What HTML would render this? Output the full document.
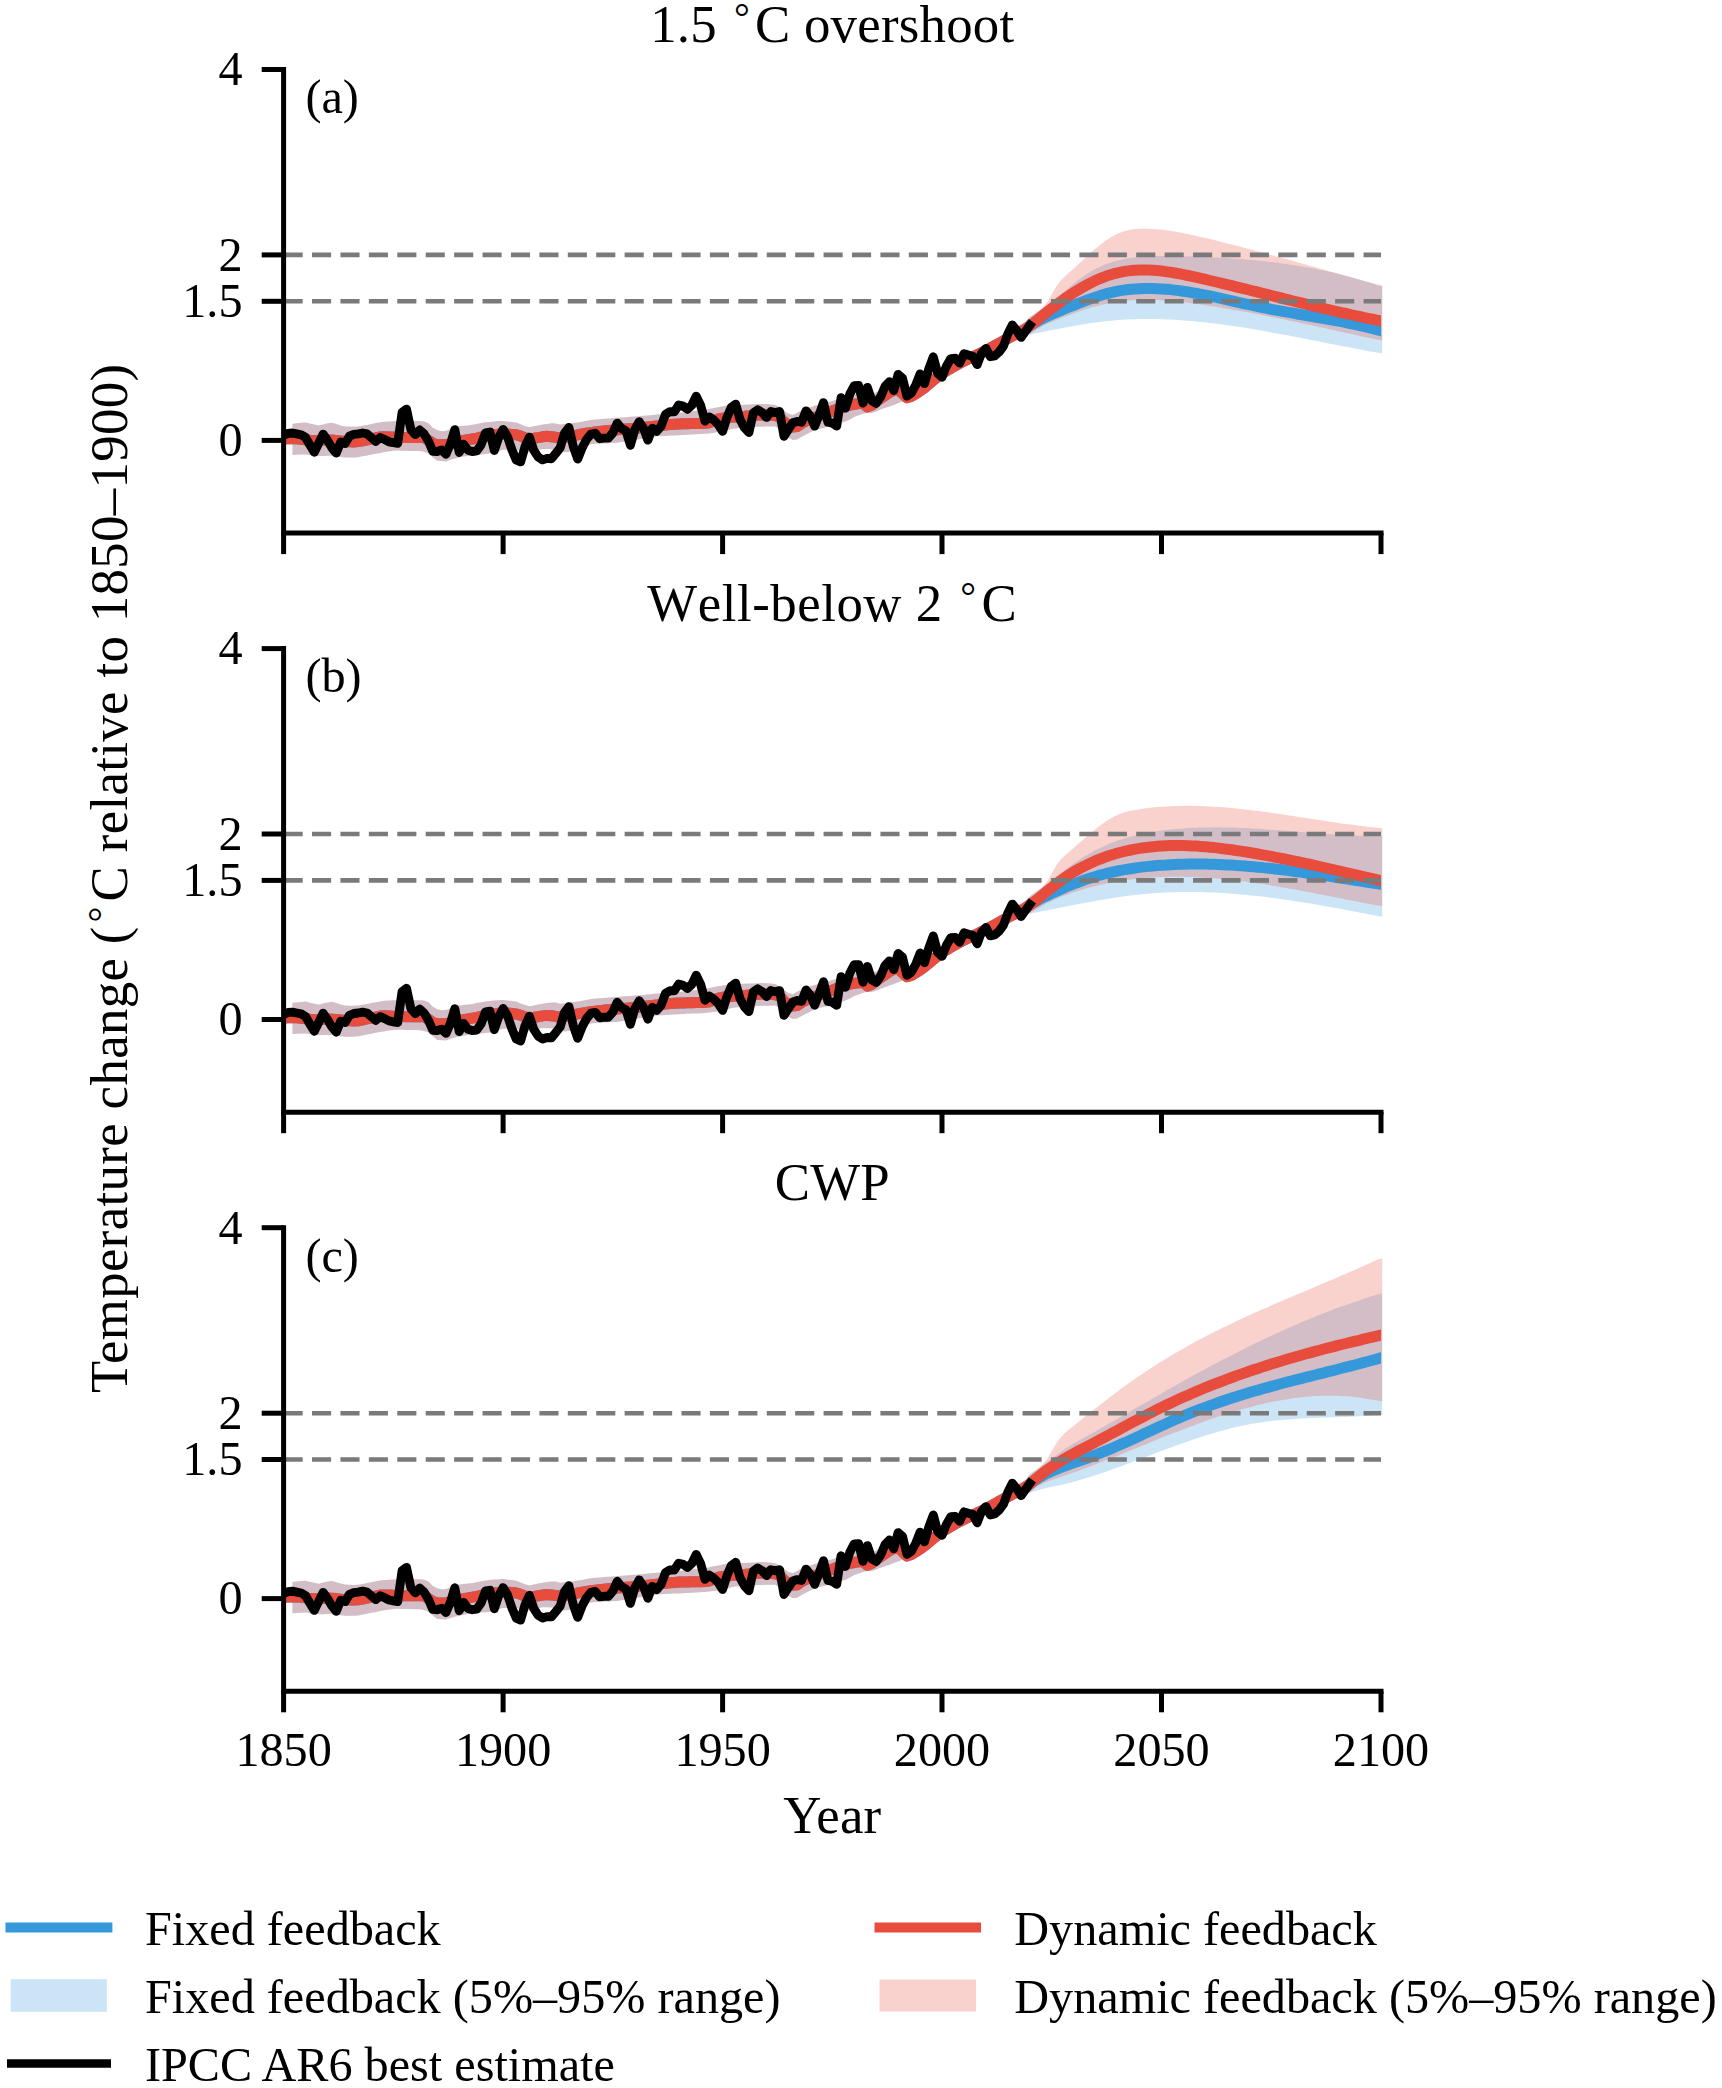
<!DOCTYPE html>
<html><head><meta charset="utf-8"><title>Temperature change</title>
<style>
html,body{margin:0;padding:0;background:#fff}
svg{display:block}
text{font-family:"Liberation Serif",serif;fill:#000;}
.t{font-size:48.2px}
.l{font-size:52.8px;letter-spacing:0.25px}
.nk{font-kerning:none;letter-spacing:0.55px}
.yl{letter-spacing:0.36px}
.rg{font-size:39.6px}
</style></head><body>
<svg width="1722" height="2088" viewBox="0 0 1722 2088">
<rect width="1722" height="2088" fill="#fff"/>
<clipPath id="cp0"><rect x="283.6" y="64.5" width="1097.4" height="468.6"/></clipPath>
<g>
<path d="M292.4 423.7 L296.8 423.3 L301.2 422.8 L305.5 422.5 L309.9 423.6 L314.3 424.6 L318.7 425.5 L323.1 424.4 L327.5 423.3 L331.9 422.7 L336.3 424.0 L340.7 425.4 L345.1 426.4 L349.4 426.6 L353.8 426.7 L358.2 426.5 L362.6 425.7 L367.0 424.9 L371.4 424.0 L375.8 423.1 L380.2 422.3 L384.6 421.7 L389.0 421.5 L393.3 421.2 L397.7 421.1 L402.1 421.1 L406.5 421.1 L410.9 421.1 L415.3 421.1 L419.7 421.1 L424.1 421.5 L428.5 423.2 L432.8 427.7 L437.2 430.1 L441.6 431.2 L446.0 430.8 L450.4 429.2 L454.8 427.7 L459.2 426.3 L463.6 425.8 L468.0 425.4 L472.4 424.8 L476.7 424.0 L481.1 423.1 L485.5 422.3 L489.9 421.9 L494.3 421.4 L498.7 421.1 L503.1 420.9 L507.5 421.4 L511.9 421.9 L516.2 422.5 L520.6 424.3 L525.0 426.0 L529.4 427.2 L533.8 426.3 L538.2 425.4 L542.6 424.6 L547.0 423.9 L551.4 423.3 L555.8 423.4 L560.1 424.6 L564.5 424.1 L568.9 423.5 L573.3 423.0 L577.7 422.4 L582.1 421.7 L586.5 420.8 L590.9 420.0 L595.3 419.5 L599.7 419.2 L604.0 418.8 L608.4 418.5 L612.8 418.2 L617.2 417.8 L621.6 417.5 L626.0 417.2 L630.4 416.8 L634.8 416.5 L639.2 416.2 L643.5 415.8 L647.9 415.4 L652.3 414.9 L656.7 414.5 L661.1 414.2 L665.5 413.8 L669.9 413.5 L674.3 413.2 L678.7 412.8 L683.1 412.4 L687.4 411.9 L691.8 411.3 L696.2 410.8 L700.6 410.2 L705.0 409.7 L709.4 409.0 L713.8 408.0 L718.2 407.2 L722.6 406.3 L726.9 405.6 L731.3 405.4 L735.7 405.1 L740.1 404.9 L744.5 404.7 L748.9 404.5 L753.3 404.3 L757.7 404.1 L762.1 403.9 L766.5 404.1 L770.8 404.5 L775.2 405.0 L779.6 407.3 L784.0 410.8 L788.4 413.8 L792.8 415.1 L797.2 412.7 L801.6 410.3 L806.0 408.6 L810.4 407.2 L814.7 405.8 L819.1 404.6 L823.5 403.5 L827.9 402.4 L832.3 401.0 L836.7 399.6 L841.1 398.2 L845.5 396.8 L849.9 395.4 L854.2 394.0 L858.6 393.6 L863.0 393.1 L867.4 396.8 L871.8 394.5 L876.2 392.2 L880.6 389.8 L885.0 387.4 L889.4 385.0 L893.8 382.5 L898.1 380.1 L902.5 382.0 L906.9 385.2 L911.3 389.1 L915.7 386.0 L920.1 382.9 L924.5 379.9 L928.9 376.8 L933.3 373.7 L937.7 370.7 L942.0 367.6 L946.4 365.4 L950.8 363.2 L955.2 360.9 L959.6 358.7 L964.0 356.5 L968.4 354.2 L972.8 351.8 L977.2 349.5 L981.5 347.2 L985.9 344.9 L990.3 342.2 L994.7 339.6 L999.1 336.9 L1003.5 334.3 L1007.9 331.6 L1012.3 329.2 L1016.7 326.7 L1021.1 324.2 L1025.4 321.7 L1029.8 317.0 L1034.2 314.2 L1038.6 311.3 L1043.0 308.2 L1047.4 305.0 L1051.8 301.7 L1056.2 298.2 L1060.6 294.6 L1064.9 290.9 L1069.3 287.2 L1073.7 283.6 L1078.1 280.1 L1082.5 276.9 L1086.9 273.9 L1091.3 271.2 L1095.7 268.8 L1100.1 266.7 L1104.5 264.8 L1108.8 263.2 L1113.2 261.7 L1117.6 260.5 L1122.0 259.5 L1126.4 258.6 L1130.8 257.9 L1135.2 257.3 L1139.6 256.9 L1144.0 256.5 L1148.4 256.3 L1152.7 256.2 L1157.1 256.1 L1161.5 256.1 L1165.9 256.1 L1170.3 256.1 L1174.7 256.2 L1179.1 256.3 L1183.5 256.3 L1187.9 256.4 L1192.2 256.6 L1196.6 256.7 L1201.0 256.8 L1205.4 257.0 L1209.8 257.2 L1214.2 257.4 L1218.6 257.6 L1223.0 257.8 L1227.4 258.1 L1231.8 258.4 L1236.1 258.7 L1240.5 259.0 L1244.9 259.3 L1249.3 259.7 L1253.7 260.1 L1258.1 260.6 L1262.5 261.0 L1266.9 261.5 L1271.3 262.0 L1275.6 262.5 L1280.0 263.1 L1284.4 263.7 L1288.8 264.4 L1293.2 265.0 L1297.6 265.7 L1302.0 266.5 L1306.4 267.2 L1310.8 268.0 L1315.2 268.9 L1319.5 269.8 L1323.9 270.7 L1328.3 271.6 L1332.7 272.6 L1337.1 273.7 L1341.5 274.8 L1345.9 275.9 L1350.3 277.0 L1354.7 278.2 L1359.1 279.5 L1363.4 280.8 L1367.8 282.1 L1372.2 283.5 L1376.6 285.0 L1382.2 286.5 L1382.2 353.2 L1376.6 352.4 L1372.2 351.7 L1367.8 350.9 L1363.4 350.1 L1359.1 349.3 L1354.7 348.4 L1350.3 347.6 L1345.9 346.8 L1341.5 345.9 L1337.1 345.1 L1332.7 344.2 L1328.3 343.4 L1323.9 342.5 L1319.5 341.6 L1315.2 340.8 L1310.8 339.9 L1306.4 339.0 L1302.0 338.2 L1297.6 337.3 L1293.2 336.5 L1288.8 335.6 L1284.4 334.8 L1280.0 334.0 L1275.6 333.2 L1271.3 332.4 L1266.9 331.6 L1262.5 330.8 L1258.1 330.0 L1253.7 329.3 L1249.3 328.6 L1244.9 327.8 L1240.5 327.1 L1236.1 326.5 L1231.8 325.8 L1227.4 325.2 L1223.0 324.6 L1218.6 324.0 L1214.2 323.4 L1209.8 322.9 L1205.4 322.4 L1201.0 321.9 L1196.6 321.5 L1192.2 321.1 L1187.9 320.7 L1183.5 320.4 L1179.1 320.1 L1174.7 319.8 L1170.3 319.6 L1165.9 319.4 L1161.5 319.2 L1157.1 319.1 L1152.7 319.0 L1148.4 319.0 L1144.0 319.0 L1139.6 319.1 L1135.2 319.2 L1130.8 319.3 L1126.4 319.5 L1122.0 319.8 L1117.6 320.1 L1113.2 320.4 L1108.8 320.9 L1104.5 321.3 L1100.1 321.9 L1095.7 322.5 L1091.3 323.1 L1086.9 323.7 L1082.5 324.4 L1078.1 325.2 L1073.7 325.9 L1069.3 326.7 L1064.9 327.5 L1060.6 328.4 L1056.2 329.2 L1051.8 330.1 L1047.4 331.0 L1043.0 331.9 L1038.6 332.8 L1034.2 333.7 L1029.8 334.6 L1025.4 331.0 L1021.1 333.5 L1016.7 335.9 L1012.3 338.4 L1007.9 340.9 L1003.5 343.6 L999.1 346.2 L994.7 348.9 L990.3 351.5 L985.9 354.2 L981.5 356.7 L977.2 359.2 L972.8 361.7 L968.4 364.2 L964.0 366.7 L959.6 369.3 L955.2 371.9 L950.8 374.5 L946.4 377.1 L942.0 379.7 L937.7 382.9 L933.3 386.2 L928.9 389.5 L924.5 392.8 L920.1 396.1 L915.7 399.0 L911.3 401.6 L906.9 401.0 L902.5 401.4 L898.1 403.2 L893.8 404.9 L889.4 406.5 L885.0 408.1 L880.6 409.6 L876.2 411.4 L871.8 413.0 L867.4 412.7 L863.0 413.7 L858.6 415.3 L854.2 416.9 L849.9 419.4 L845.5 421.5 L841.1 422.8 L836.7 424.2 L832.3 425.5 L827.9 426.8 L823.5 427.9 L819.1 428.9 L814.7 430.1 L810.4 432.3 L806.0 434.6 L801.6 436.8 L797.2 439.5 L792.8 440.0 L788.4 437.6 L784.0 433.3 L779.6 429.1 L775.2 426.5 L770.8 426.6 L766.5 426.6 L762.1 426.7 L757.7 426.8 L753.3 427.1 L748.9 427.4 L744.5 427.7 L740.1 428.0 L735.7 428.4 L731.3 429.0 L726.9 430.6 L722.6 431.6 L718.2 432.2 L713.8 432.8 L709.4 433.4 L705.0 433.8 L700.6 434.1 L696.2 434.3 L691.8 434.5 L687.4 434.7 L683.1 435.0 L678.7 435.2 L674.3 435.4 L669.9 435.6 L665.5 435.9 L661.1 436.1 L656.7 436.3 L652.3 437.0 L647.9 437.7 L643.5 438.5 L639.2 439.2 L634.8 439.9 L630.4 440.7 L626.0 441.4 L621.6 442.1 L617.2 442.8 L612.8 443.0 L608.4 443.2 L604.0 443.4 L599.7 443.6 L595.3 443.8 L590.9 444.3 L586.5 445.5 L582.1 446.6 L577.7 447.8 L573.3 449.9 L568.9 451.9 L564.5 452.3 L560.1 451.0 L555.8 449.7 L551.4 449.2 L547.0 449.1 L542.6 449.0 L538.2 449.9 L533.8 451.0 L529.4 452.2 L525.0 451.7 L520.6 450.7 L516.2 449.7 L511.9 449.7 L507.5 449.7 L503.1 449.7 L498.7 451.0 L494.3 452.3 L489.9 453.5 L485.5 454.0 L481.1 454.4 L476.7 454.9 L472.4 455.4 L468.0 455.9 L463.6 456.6 L459.2 457.6 L454.8 458.5 L450.4 459.7 L446.0 461.4 L441.6 461.1 L437.2 460.8 L432.8 457.2 L428.5 453.5 L424.1 451.8 L419.7 451.1 L415.3 451.0 L410.9 450.9 L406.5 450.8 L402.1 450.7 L397.7 450.6 L393.3 450.8 L389.0 451.4 L384.6 452.1 L380.2 452.9 L375.8 453.7 L371.4 454.6 L367.0 455.5 L362.6 456.3 L358.2 457.2 L353.8 457.6 L349.4 457.6 L345.1 457.6 L340.7 457.1 L336.3 456.5 L331.9 455.8 L327.5 455.8 L323.1 456.0 L318.7 456.1 L314.3 455.6 L309.9 455.0 L305.5 454.4 L301.2 454.5 L296.8 454.7 L292.4 455.0Z" fill="#3498DB" fill-opacity="0.25"/>
<path d="M292.4 423.7 L296.8 423.3 L301.2 422.8 L305.5 422.5 L309.9 423.6 L314.3 424.6 L318.7 425.5 L323.1 424.4 L327.5 423.3 L331.9 422.7 L336.3 424.0 L340.7 425.4 L345.1 426.4 L349.4 426.6 L353.8 426.7 L358.2 426.5 L362.6 425.7 L367.0 424.9 L371.4 424.0 L375.8 423.1 L380.2 422.3 L384.6 421.7 L389.0 421.5 L393.3 421.2 L397.7 421.1 L402.1 421.1 L406.5 421.1 L410.9 421.1 L415.3 421.1 L419.7 421.1 L424.1 421.5 L428.5 423.2 L432.8 427.7 L437.2 430.1 L441.6 431.2 L446.0 430.8 L450.4 429.2 L454.8 427.7 L459.2 426.3 L463.6 425.8 L468.0 425.4 L472.4 424.8 L476.7 424.0 L481.1 423.1 L485.5 422.3 L489.9 421.9 L494.3 421.4 L498.7 421.1 L503.1 420.9 L507.5 421.4 L511.9 421.9 L516.2 422.5 L520.6 424.3 L525.0 426.0 L529.4 427.2 L533.8 426.3 L538.2 425.4 L542.6 424.6 L547.0 423.9 L551.4 423.3 L555.8 423.4 L560.1 424.6 L564.5 424.1 L568.9 423.5 L573.3 423.0 L577.7 422.4 L582.1 421.7 L586.5 420.8 L590.9 420.0 L595.3 419.5 L599.7 419.2 L604.0 418.8 L608.4 418.5 L612.8 418.2 L617.2 417.8 L621.6 417.5 L626.0 417.2 L630.4 416.8 L634.8 416.5 L639.2 416.2 L643.5 415.8 L647.9 415.4 L652.3 414.9 L656.7 414.5 L661.1 414.2 L665.5 413.8 L669.9 413.5 L674.3 413.2 L678.7 412.8 L683.1 412.4 L687.4 411.9 L691.8 411.3 L696.2 410.8 L700.6 410.2 L705.0 409.7 L709.4 409.0 L713.8 408.0 L718.2 407.2 L722.6 406.3 L726.9 405.6 L731.3 405.4 L735.7 405.1 L740.1 404.9 L744.5 404.7 L748.9 404.5 L753.3 404.3 L757.7 404.1 L762.1 403.9 L766.5 404.1 L770.8 404.5 L775.2 405.0 L779.6 407.3 L784.0 410.8 L788.4 413.8 L792.8 415.1 L797.2 412.7 L801.6 410.3 L806.0 408.6 L810.4 407.2 L814.7 405.8 L819.1 404.6 L823.5 403.5 L827.9 402.4 L832.3 401.0 L836.7 399.6 L841.1 398.2 L845.5 396.8 L849.9 395.4 L854.2 394.0 L858.6 393.6 L863.0 393.1 L867.4 396.8 L871.8 394.5 L876.2 392.2 L880.6 389.8 L885.0 387.4 L889.4 385.0 L893.8 382.5 L898.1 380.1 L902.5 382.0 L906.9 385.2 L911.3 389.1 L915.7 386.0 L920.1 382.9 L924.5 379.9 L928.9 376.8 L933.3 373.7 L937.7 370.7 L942.0 367.6 L946.4 365.4 L950.8 363.2 L955.2 360.9 L959.6 358.7 L964.0 356.5 L968.4 354.2 L972.8 351.8 L977.2 349.5 L981.5 347.2 L985.9 344.9 L990.3 342.2 L994.7 339.6 L999.1 336.9 L1003.5 334.3 L1007.9 331.6 L1012.3 329.2 L1016.7 326.7 L1021.1 324.2 L1025.4 321.7 L1029.8 317.1 L1034.2 314.0 L1038.6 311.0 L1043.0 307.3 L1047.4 301.9 L1051.8 294.2 L1056.2 286.6 L1060.6 280.8 L1064.9 276.4 L1069.3 272.5 L1073.7 268.5 L1078.1 264.5 L1082.5 260.4 L1086.9 256.3 L1091.3 252.3 L1095.7 248.5 L1100.1 244.9 L1104.5 241.5 L1108.8 238.5 L1113.2 235.9 L1117.6 233.6 L1122.0 231.9 L1126.4 230.6 L1130.8 229.7 L1135.2 229.0 L1139.6 228.7 L1144.0 228.6 L1148.4 228.7 L1152.7 228.9 L1157.1 229.2 L1161.5 229.6 L1165.9 230.2 L1170.3 230.8 L1174.7 231.5 L1179.1 232.3 L1183.5 233.2 L1187.9 234.1 L1192.2 235.0 L1196.6 236.0 L1201.0 237.0 L1205.4 238.0 L1209.8 239.1 L1214.2 240.1 L1218.6 241.2 L1223.0 242.3 L1227.4 243.4 L1231.8 244.5 L1236.1 245.6 L1240.5 246.8 L1244.9 247.9 L1249.3 249.1 L1253.7 250.2 L1258.1 251.4 L1262.5 252.6 L1266.9 253.8 L1271.3 255.0 L1275.6 256.2 L1280.0 257.4 L1284.4 258.6 L1288.8 259.8 L1293.2 261.0 L1297.6 262.2 L1302.0 263.5 L1306.4 264.7 L1310.8 265.9 L1315.2 267.2 L1319.5 268.4 L1323.9 269.6 L1328.3 270.9 L1332.7 272.1 L1337.1 273.3 L1341.5 274.6 L1345.9 275.8 L1350.3 277.0 L1354.7 278.2 L1359.1 279.5 L1363.4 280.7 L1367.8 281.9 L1372.2 283.1 L1376.6 284.3 L1382.2 285.5 L1382.2 340.4 L1376.6 339.5 L1372.2 338.6 L1367.8 337.6 L1363.4 336.7 L1359.1 335.7 L1354.7 334.7 L1350.3 333.8 L1345.9 332.8 L1341.5 331.9 L1337.1 330.9 L1332.7 329.9 L1328.3 329.0 L1323.9 328.0 L1319.5 327.1 L1315.2 326.1 L1310.8 325.1 L1306.4 324.2 L1302.0 323.3 L1297.6 322.3 L1293.2 321.4 L1288.8 320.5 L1284.4 319.6 L1280.0 318.7 L1275.6 317.8 L1271.3 316.9 L1266.9 316.0 L1262.5 315.2 L1258.1 314.3 L1253.7 313.5 L1249.3 312.6 L1244.9 311.8 L1240.5 311.0 L1236.1 310.2 L1231.8 309.5 L1227.4 308.7 L1223.0 308.0 L1218.6 307.3 L1214.2 306.6 L1209.8 305.9 L1205.4 305.2 L1201.0 304.6 L1196.6 304.0 L1192.2 303.4 L1187.9 302.8 L1183.5 302.3 L1179.1 301.8 L1174.7 301.4 L1170.3 301.0 L1165.9 300.6 L1161.5 300.4 L1157.1 300.1 L1152.7 300.0 L1148.4 299.9 L1144.0 299.9 L1139.6 300.0 L1135.2 300.2 L1130.8 300.4 L1126.4 300.8 L1122.0 301.2 L1117.6 301.8 L1113.2 302.5 L1108.8 303.3 L1104.5 304.2 L1100.1 305.2 L1095.7 306.3 L1091.3 307.5 L1086.9 308.8 L1082.5 310.2 L1078.1 311.7 L1073.7 313.2 L1069.3 314.9 L1064.9 316.5 L1060.6 318.3 L1056.2 320.0 L1051.8 321.9 L1047.4 323.8 L1043.0 325.9 L1038.6 328.4 L1034.2 331.2 L1029.8 334.6 L1025.4 331.0 L1021.1 333.5 L1016.7 335.9 L1012.3 338.4 L1007.9 340.9 L1003.5 343.6 L999.1 346.2 L994.7 348.9 L990.3 351.5 L985.9 354.2 L981.5 356.7 L977.2 359.2 L972.8 361.7 L968.4 364.2 L964.0 366.7 L959.6 369.3 L955.2 371.9 L950.8 374.5 L946.4 377.1 L942.0 379.7 L937.7 382.9 L933.3 386.2 L928.9 389.5 L924.5 392.8 L920.1 396.1 L915.7 399.0 L911.3 401.6 L906.9 401.0 L902.5 401.4 L898.1 403.2 L893.8 404.9 L889.4 406.5 L885.0 408.1 L880.6 409.6 L876.2 411.4 L871.8 413.0 L867.4 412.7 L863.0 413.7 L858.6 415.3 L854.2 416.9 L849.9 419.4 L845.5 421.5 L841.1 422.8 L836.7 424.2 L832.3 425.5 L827.9 426.8 L823.5 427.9 L819.1 428.9 L814.7 430.1 L810.4 432.3 L806.0 434.6 L801.6 436.8 L797.2 439.5 L792.8 440.0 L788.4 437.6 L784.0 433.3 L779.6 429.1 L775.2 426.5 L770.8 426.6 L766.5 426.6 L762.1 426.7 L757.7 426.8 L753.3 427.1 L748.9 427.4 L744.5 427.7 L740.1 428.0 L735.7 428.4 L731.3 429.0 L726.9 430.6 L722.6 431.6 L718.2 432.2 L713.8 432.8 L709.4 433.4 L705.0 433.8 L700.6 434.1 L696.2 434.3 L691.8 434.5 L687.4 434.7 L683.1 435.0 L678.7 435.2 L674.3 435.4 L669.9 435.6 L665.5 435.9 L661.1 436.1 L656.7 436.3 L652.3 437.0 L647.9 437.7 L643.5 438.5 L639.2 439.2 L634.8 439.9 L630.4 440.7 L626.0 441.4 L621.6 442.1 L617.2 442.8 L612.8 443.0 L608.4 443.2 L604.0 443.4 L599.7 443.6 L595.3 443.8 L590.9 444.3 L586.5 445.5 L582.1 446.6 L577.7 447.8 L573.3 449.9 L568.9 451.9 L564.5 452.3 L560.1 451.0 L555.8 449.7 L551.4 449.2 L547.0 449.1 L542.6 449.0 L538.2 449.9 L533.8 451.0 L529.4 452.2 L525.0 451.7 L520.6 450.7 L516.2 449.7 L511.9 449.7 L507.5 449.7 L503.1 449.7 L498.7 451.0 L494.3 452.3 L489.9 453.5 L485.5 454.0 L481.1 454.4 L476.7 454.9 L472.4 455.4 L468.0 455.9 L463.6 456.6 L459.2 457.6 L454.8 458.5 L450.4 459.7 L446.0 461.4 L441.6 461.1 L437.2 460.8 L432.8 457.2 L428.5 453.5 L424.1 451.8 L419.7 451.1 L415.3 451.0 L410.9 450.9 L406.5 450.8 L402.1 450.7 L397.7 450.6 L393.3 450.8 L389.0 451.4 L384.6 452.1 L380.2 452.9 L375.8 453.7 L371.4 454.6 L367.0 455.5 L362.6 456.3 L358.2 457.2 L353.8 457.6 L349.4 457.6 L345.1 457.6 L340.7 457.1 L336.3 456.5 L331.9 455.8 L327.5 455.8 L323.1 456.0 L318.7 456.1 L314.3 455.6 L309.9 455.0 L305.5 454.4 L301.2 454.5 L296.8 454.7 L292.4 455.0Z" fill="#E74C3C" fill-opacity="0.25"/>
<path d="M283.6 439.0 L288.0 438.7 L292.4 438.5 L296.8 438.7 L301.2 439.2 L305.5 439.7 L309.9 440.2 L314.3 440.4 L318.7 440.3 L323.1 440.1 L327.5 439.9 L331.9 440.1 L336.3 440.4 L340.7 440.9 L345.1 441.4 L349.4 441.7 L353.8 441.9 L358.2 441.6 L362.6 440.9 L367.0 439.9 L371.4 439.0 L375.8 437.9 L380.2 436.9 L384.6 436.7 L389.0 436.9 L393.3 437.1 L397.7 437.3 L402.1 437.5 L406.5 437.6 L410.9 437.6 L415.3 437.6 L419.7 437.6 L424.1 437.6 L428.5 440.4 L432.8 443.2 L437.2 444.8 L441.6 444.7 L446.0 444.6 L450.4 443.9 L454.8 442.5 L459.2 441.3 L463.6 440.5 L468.0 439.8 L472.4 439.0 L476.7 438.2 L481.1 437.2 L485.5 436.3 L489.9 435.5 L494.3 434.8 L498.7 434.2 L503.1 433.9 L507.5 434.0 L511.9 434.4 L516.2 434.8 L520.6 436.1 L525.0 437.9 L529.4 438.5 L533.8 438.2 L538.2 437.6 L542.6 436.8 L547.0 436.3 L551.4 436.7 L555.8 437.3 L560.1 437.6 L564.5 437.4 L568.9 436.8 L573.3 435.8 L577.7 434.8 L582.1 434.0 L586.5 433.3 L590.9 432.6 L595.3 432.0 L599.7 431.5 L604.0 431.0 L608.4 430.6 L612.8 430.2 L617.2 429.8 L621.6 429.5 L626.0 429.1 L630.4 428.7 L634.8 428.3 L639.2 427.9 L643.5 427.4 L647.9 426.9 L652.3 426.4 L656.7 425.9 L661.1 425.4 L665.5 425.0 L669.9 424.5 L674.3 424.2 L678.7 423.9 L683.1 423.8 L687.4 423.7 L691.8 423.6 L696.2 423.5 L700.6 423.5 L705.0 423.3 L709.4 422.8 L713.8 420.9 L718.2 419.0 L722.6 418.2 L726.9 417.7 L731.3 417.3 L735.7 416.9 L740.1 416.6 L744.5 416.3 L748.9 415.9 L753.3 415.5 L757.7 415.1 L762.1 414.9 L766.5 414.9 L770.8 415.2 L775.2 415.6 L779.6 417.2 L784.0 421.9 L788.4 425.4 L792.8 427.0 L797.2 426.5 L801.6 423.4 L806.0 421.1 L810.4 419.4 L814.7 417.7 L819.1 415.9 L823.5 414.2 L827.9 412.6 L832.3 411.0 L836.7 409.3 L841.1 407.7 L845.5 406.3 L849.9 405.1 L854.2 404.3 L858.6 403.6 L863.0 403.3 L867.4 407.0 L871.8 405.2 L876.2 401.5 L880.6 398.5 L885.0 395.5 L889.4 392.5 L893.8 390.3 L898.1 389.4 L902.5 393.6 L906.9 397.7 L911.3 396.4 L915.7 393.7 L920.1 390.9 L924.5 387.7 L928.9 384.1 L933.3 380.4 L937.7 376.8 L942.0 373.6 L946.4 370.8 L950.8 368.2 L955.2 365.7 L959.6 363.3 L964.0 361.1 L968.4 359.0 L972.8 356.9 L977.2 354.8 L981.5 352.7 L985.9 350.5 L990.3 348.1 L994.7 345.7 L999.1 343.2 L1003.5 340.8 L1007.9 338.4 L1012.3 336.1 L1016.7 334.0 L1021.1 331.7 L1025.4 329.1 L1029.8 325.9 L1034.2 323.2 L1038.6 320.7 L1043.0 318.4 L1047.4 316.3 L1051.8 314.3 L1056.2 312.4 L1060.6 310.6 L1064.9 308.8 L1069.3 307.0 L1073.7 305.3 L1078.1 303.5 L1082.5 301.8 L1086.9 300.2 L1091.3 298.6 L1095.7 297.1 L1100.1 295.6 L1104.5 294.3 L1108.8 293.1 L1113.2 292.1 L1117.6 291.2 L1122.0 290.4 L1126.4 289.8 L1130.8 289.3 L1135.2 288.9 L1139.6 288.7 L1144.0 288.5 L1148.4 288.5 L1152.7 288.5 L1157.1 288.7 L1161.5 288.9 L1165.9 289.2 L1170.3 289.6 L1174.7 290.1 L1179.1 290.6 L1183.5 291.3 L1187.9 291.9 L1192.2 292.7 L1196.6 293.4 L1201.0 294.3 L1205.4 295.1 L1209.8 296.0 L1214.2 296.9 L1218.6 297.9 L1223.0 298.8 L1227.4 299.8 L1231.8 300.8 L1236.1 301.8 L1240.5 302.8 L1244.9 303.8 L1249.3 304.7 L1253.7 305.7 L1258.1 306.6 L1262.5 307.5 L1266.9 308.4 L1271.3 309.3 L1275.6 310.1 L1280.0 310.9 L1284.4 311.7 L1288.8 312.4 L1293.2 313.2 L1297.6 314.0 L1302.0 314.7 L1306.4 315.5 L1310.8 316.2 L1315.2 317.0 L1319.5 317.7 L1323.9 318.5 L1328.3 319.3 L1332.7 320.1 L1337.1 320.9 L1341.5 321.7 L1345.9 322.6 L1350.3 323.5 L1354.7 324.4 L1359.1 325.4 L1363.4 326.4 L1367.8 327.4 L1372.2 328.5 L1376.6 329.6 L1381.0 330.8 L1389.8 333.2" fill="none" stroke="#3498DB" stroke-width="11" stroke-linejoin="round" clip-path="url(#cp0)"/>
<path d="M283.6 439.0 L288.0 438.7 L292.4 438.5 L296.8 438.7 L301.2 439.2 L305.5 439.7 L309.9 440.2 L314.3 440.4 L318.7 440.3 L323.1 440.1 L327.5 439.9 L331.9 440.1 L336.3 440.4 L340.7 440.9 L345.1 441.4 L349.4 441.7 L353.8 441.9 L358.2 441.6 L362.6 440.9 L367.0 439.9 L371.4 439.0 L375.8 437.9 L380.2 436.9 L384.6 436.7 L389.0 436.9 L393.3 437.1 L397.7 437.3 L402.1 437.5 L406.5 437.6 L410.9 437.6 L415.3 437.6 L419.7 437.6 L424.1 437.6 L428.5 440.4 L432.8 443.2 L437.2 444.8 L441.6 444.7 L446.0 444.6 L450.4 443.9 L454.8 442.5 L459.2 441.3 L463.6 440.5 L468.0 439.8 L472.4 439.0 L476.7 438.2 L481.1 437.2 L485.5 436.3 L489.9 435.5 L494.3 434.8 L498.7 434.2 L503.1 433.9 L507.5 434.0 L511.9 434.4 L516.2 434.8 L520.6 436.1 L525.0 437.9 L529.4 438.5 L533.8 438.2 L538.2 437.6 L542.6 436.8 L547.0 436.3 L551.4 436.7 L555.8 437.3 L560.1 437.6 L564.5 437.4 L568.9 436.8 L573.3 435.8 L577.7 434.8 L582.1 434.0 L586.5 433.3 L590.9 432.6 L595.3 432.0 L599.7 431.5 L604.0 431.0 L608.4 430.6 L612.8 430.2 L617.2 429.8 L621.6 429.5 L626.0 429.1 L630.4 428.7 L634.8 428.3 L639.2 427.9 L643.5 427.4 L647.9 426.9 L652.3 426.4 L656.7 425.9 L661.1 425.4 L665.5 425.0 L669.9 424.5 L674.3 424.2 L678.7 423.9 L683.1 423.8 L687.4 423.7 L691.8 423.6 L696.2 423.5 L700.6 423.5 L705.0 423.3 L709.4 422.8 L713.8 420.9 L718.2 419.0 L722.6 418.2 L726.9 417.7 L731.3 417.3 L735.7 416.9 L740.1 416.6 L744.5 416.3 L748.9 415.9 L753.3 415.5 L757.7 415.1 L762.1 414.9 L766.5 414.9 L770.8 415.2 L775.2 415.6 L779.6 417.2 L784.0 421.9 L788.4 425.4 L792.8 427.0 L797.2 426.5 L801.6 423.4 L806.0 421.1 L810.4 419.4 L814.7 417.7 L819.1 415.9 L823.5 414.2 L827.9 412.6 L832.3 411.0 L836.7 409.3 L841.1 407.7 L845.5 406.3 L849.9 405.1 L854.2 404.3 L858.6 403.6 L863.0 403.3 L867.4 407.0 L871.8 405.2 L876.2 401.5 L880.6 398.5 L885.0 395.5 L889.4 392.5 L893.8 390.3 L898.1 389.4 L902.5 393.6 L906.9 397.7 L911.3 396.4 L915.7 393.7 L920.1 390.9 L924.5 387.7 L928.9 384.1 L933.3 380.4 L937.7 376.8 L942.0 373.6 L946.4 370.8 L950.8 368.2 L955.2 365.7 L959.6 363.3 L964.0 361.1 L968.4 359.0 L972.8 356.9 L977.2 354.8 L981.5 352.7 L985.9 350.5 L990.3 348.1 L994.7 345.7 L999.1 343.2 L1003.5 340.8 L1007.9 338.4 L1012.3 336.1 L1016.7 334.0 L1021.1 331.7 L1025.4 329.1 L1029.8 325.9 L1034.2 322.5 L1038.6 318.9 L1043.0 315.3 L1047.4 311.8 L1051.8 308.3 L1056.2 305.0 L1060.6 301.8 L1064.9 298.6 L1069.3 295.6 L1073.7 292.7 L1078.1 289.9 L1082.5 287.3 L1086.9 284.9 L1091.3 282.6 L1095.7 280.4 L1100.1 278.5 L1104.5 276.8 L1108.8 275.2 L1113.2 273.9 L1117.6 272.8 L1122.0 271.9 L1126.4 271.1 L1130.8 270.6 L1135.2 270.2 L1139.6 270.0 L1144.0 270.0 L1148.4 270.0 L1152.7 270.3 L1157.1 270.6 L1161.5 271.0 L1165.9 271.6 L1170.3 272.2 L1174.7 273.0 L1179.1 273.7 L1183.5 274.6 L1187.9 275.5 L1192.2 276.4 L1196.6 277.4 L1201.0 278.4 L1205.4 279.4 L1209.8 280.5 L1214.2 281.5 L1218.6 282.5 L1223.0 283.6 L1227.4 284.6 L1231.8 285.7 L1236.1 286.8 L1240.5 287.9 L1244.9 288.9 L1249.3 290.0 L1253.7 291.1 L1258.1 292.2 L1262.5 293.3 L1266.9 294.4 L1271.3 295.5 L1275.6 296.6 L1280.0 297.7 L1284.4 298.8 L1288.8 299.9 L1293.2 301.0 L1297.6 302.1 L1302.0 303.2 L1306.4 304.2 L1310.8 305.3 L1315.2 306.4 L1319.5 307.4 L1323.9 308.5 L1328.3 309.5 L1332.7 310.5 L1337.1 311.5 L1341.5 312.6 L1345.9 313.5 L1350.3 314.5 L1354.7 315.5 L1359.1 316.4 L1363.4 317.4 L1367.8 318.3 L1372.2 319.2 L1376.6 320.1 L1381.0 320.9 L1389.8 322.7" fill="none" stroke="#E74C3C" stroke-width="11" stroke-linejoin="round" clip-path="url(#cp0)"/>
<line x1="283.6" x2="1381.0" y1="301.3" y2="301.3" stroke="#7a7a7a" stroke-width="4.6" stroke-dasharray="19.1 9.32"/>
<line x1="283.6" x2="1381.0" y1="254.9" y2="254.9" stroke="#7a7a7a" stroke-width="4.6" stroke-dasharray="19.1 9.32"/>
<path d="M283.6 435.3 L288.0 433.4 L292.4 433.0 L296.8 433.9 L301.2 434.8 L305.5 437.4 L309.9 445.0 L314.3 452.2 L318.7 443.2 L323.1 434.2 L327.5 440.4 L331.9 447.8 L336.3 453.1 L340.7 442.1 L345.1 443.4 L349.4 436.2 L353.8 434.4 L358.2 433.9 L362.6 433.0 L367.0 433.9 L371.4 437.6 L375.8 441.3 L380.2 437.6 L384.6 439.5 L389.0 441.8 L393.3 442.7 L397.7 443.4 L402.1 412.4 L406.5 409.2 L410.9 429.5 L415.3 434.6 L419.7 430.0 L424.1 433.9 L428.5 441.3 L432.8 451.2 L437.2 451.5 L441.6 450.1 L446.0 454.3 L450.4 444.1 L454.8 429.6 L459.2 452.5 L463.6 444.3 L468.0 450.2 L472.4 451.5 L476.7 450.9 L481.1 444.8 L485.5 432.8 L489.9 432.1 L494.3 450.5 L498.7 437.6 L503.1 429.4 L507.5 436.7 L511.9 449.7 L516.2 459.9 L520.6 461.9 L525.0 446.7 L529.4 437.1 L533.8 450.3 L538.2 457.1 L542.6 459.9 L547.0 458.4 L551.4 458.7 L555.8 453.4 L560.1 448.0 L564.5 433.3 L568.9 427.5 L573.3 446.5 L577.7 459.1 L582.1 447.8 L586.5 439.5 L590.9 434.1 L595.3 433.3 L599.7 438.7 L604.0 438.1 L608.4 438.1 L612.8 433.0 L617.2 423.1 L621.6 428.5 L626.0 430.9 L630.4 445.2 L634.8 429.6 L639.2 421.7 L643.5 428.2 L647.9 440.1 L652.3 428.2 L656.7 431.3 L661.1 426.2 L665.5 414.3 L669.9 411.7 L674.3 411.8 L678.7 405.0 L683.1 406.1 L687.4 409.3 L691.8 405.3 L696.2 396.2 L700.6 405.2 L705.0 421.1 L709.4 417.0 L713.8 420.0 L718.2 424.5 L722.6 431.3 L726.9 417.6 L731.3 407.3 L735.7 404.1 L740.1 419.7 L744.5 427.8 L748.9 432.5 L753.3 412.9 L757.7 409.8 L762.1 412.6 L766.5 417.4 L770.8 411.5 L775.2 412.6 L779.6 411.5 L784.0 436.3 L788.4 429.3 L792.8 422.8 L797.2 421.4 L801.6 422.2 L806.0 410.9 L810.4 416.3 L814.7 426.1 L819.1 415.0 L823.5 402.6 L827.9 422.2 L832.3 423.1 L836.7 426.1 L841.1 397.6 L845.5 408.1 L849.9 393.9 L854.2 385.7 L858.6 385.5 L863.0 403.1 L867.4 387.4 L871.8 400.7 L876.2 403.3 L880.6 397.0 L885.0 386.4 L889.4 381.8 L893.8 390.5 L898.1 374.4 L902.5 378.1 L906.9 396.1 L911.3 393.1 L915.7 385.2 L920.1 373.9 L924.5 383.6 L928.9 368.6 L933.3 356.8 L937.7 373.4 L942.0 377.2 L946.4 366.2 L950.8 358.6 L955.2 358.3 L959.6 363.1 L964.0 353.7 L968.4 355.1 L972.8 356.2 L977.2 364.6 L981.5 353.2 L985.9 348.4 L990.3 356.7 L994.7 355.8 L999.1 352.0 L1003.5 346.0 L1007.9 333.8 L1012.3 325.0 L1016.7 330.5 L1021.1 337.4 L1025.4 331.4 L1029.8 325.3" fill="none" stroke="#000" stroke-width="8.9" stroke-linejoin="round" stroke-linecap="square" clip-path="url(#cp0)"/>
<path d="M283.6 67.0V533.1H1383.5" fill="none" stroke="#000" stroke-width="5.0" stroke-linejoin="miter"/>
<line x1="261.7" x2="283.6" y1="440.4" y2="440.4" stroke="#000" stroke-width="5.0"/>
<text class="t" x="242.5" y="456.2" text-anchor="end">0</text>
<line x1="261.7" x2="283.6" y1="301.3" y2="301.3" stroke="#000" stroke-width="5.0"/>
<text class="t" x="242.5" y="317.1" text-anchor="end">1.5</text>
<line x1="261.7" x2="283.6" y1="254.9" y2="254.9" stroke="#000" stroke-width="5.0"/>
<text class="t" x="242.5" y="270.8" text-anchor="end">2</text>
<line x1="261.7" x2="283.6" y1="69.5" y2="69.5" stroke="#000" stroke-width="5.0"/>
<text class="t" x="242.5" y="85.3" text-anchor="end">4</text>
<line x1="283.6" x2="283.6" y1="533.1" y2="554.1" stroke="#000" stroke-width="5.0"/>
<line x1="503.1" x2="503.1" y1="533.1" y2="554.1" stroke="#000" stroke-width="5.0"/>
<line x1="722.6" x2="722.6" y1="533.1" y2="554.1" stroke="#000" stroke-width="5.0"/>
<line x1="942.0" x2="942.0" y1="533.1" y2="554.1" stroke="#000" stroke-width="5.0"/>
<line x1="1161.5" x2="1161.5" y1="533.1" y2="554.1" stroke="#000" stroke-width="5.0"/>
<line x1="1381.0" x2="1381.0" y1="533.1" y2="554.1" stroke="#000" stroke-width="5.0"/>
<text class="l" x="832.3" y="41.8" text-anchor="middle">1.5 <tspan class="rg" dx="3.7" dy="-11.3">°</tspan><tspan dx="4.9" dy="11.3">C overshoot</tspan></text>
<text class="t" x="305.4" y="113.3">(a)</text>
</g>
<clipPath id="cp1"><rect x="283.6" y="643.6" width="1097.4" height="468.6"/></clipPath>
<g>
<path d="M292.4 1002.8 L296.8 1002.4 L301.2 1001.9 L305.5 1001.6 L309.9 1002.7 L314.3 1003.7 L318.7 1004.6 L323.1 1003.5 L327.5 1002.4 L331.9 1001.8 L336.3 1003.1 L340.7 1004.5 L345.1 1005.5 L349.4 1005.7 L353.8 1005.8 L358.2 1005.6 L362.6 1004.8 L367.0 1004.0 L371.4 1003.1 L375.8 1002.2 L380.2 1001.4 L384.6 1000.8 L389.0 1000.6 L393.3 1000.3 L397.7 1000.2 L402.1 1000.2 L406.5 1000.2 L410.9 1000.2 L415.3 1000.2 L419.7 1000.2 L424.1 1000.6 L428.5 1002.3 L432.8 1006.8 L437.2 1009.2 L441.6 1010.3 L446.0 1009.9 L450.4 1008.3 L454.8 1006.8 L459.2 1005.4 L463.6 1004.9 L468.0 1004.5 L472.4 1003.9 L476.7 1003.1 L481.1 1002.2 L485.5 1001.4 L489.9 1001.0 L494.3 1000.5 L498.7 1000.2 L503.1 1000.0 L507.5 1000.5 L511.9 1001.0 L516.2 1001.6 L520.6 1003.4 L525.0 1005.1 L529.4 1006.3 L533.8 1005.4 L538.2 1004.5 L542.6 1003.7 L547.0 1003.0 L551.4 1002.4 L555.8 1002.5 L560.1 1003.7 L564.5 1003.2 L568.9 1002.6 L573.3 1002.1 L577.7 1001.5 L582.1 1000.8 L586.5 999.9 L590.9 999.1 L595.3 998.6 L599.7 998.3 L604.0 997.9 L608.4 997.6 L612.8 997.3 L617.2 996.9 L621.6 996.6 L626.0 996.3 L630.4 995.9 L634.8 995.6 L639.2 995.3 L643.5 994.9 L647.9 994.5 L652.3 994.0 L656.7 993.6 L661.1 993.3 L665.5 992.9 L669.9 992.6 L674.3 992.3 L678.7 991.9 L683.1 991.5 L687.4 991.0 L691.8 990.4 L696.2 989.9 L700.6 989.3 L705.0 988.8 L709.4 988.1 L713.8 987.1 L718.2 986.3 L722.6 985.4 L726.9 984.7 L731.3 984.5 L735.7 984.2 L740.1 984.0 L744.5 983.8 L748.9 983.6 L753.3 983.4 L757.7 983.2 L762.1 983.0 L766.5 983.2 L770.8 983.6 L775.2 984.1 L779.6 986.4 L784.0 989.9 L788.4 992.9 L792.8 994.2 L797.2 991.8 L801.6 989.4 L806.0 987.7 L810.4 986.3 L814.7 984.9 L819.1 983.7 L823.5 982.6 L827.9 981.5 L832.3 980.1 L836.7 978.7 L841.1 977.3 L845.5 975.9 L849.9 974.5 L854.2 973.1 L858.6 972.7 L863.0 972.2 L867.4 975.9 L871.8 973.6 L876.2 971.3 L880.6 968.9 L885.0 966.5 L889.4 964.1 L893.8 961.6 L898.1 959.2 L902.5 961.1 L906.9 964.3 L911.3 968.2 L915.7 965.1 L920.1 962.0 L924.5 959.0 L928.9 955.9 L933.3 952.8 L937.7 949.8 L942.0 946.7 L946.4 944.5 L950.8 942.3 L955.2 940.0 L959.6 937.8 L964.0 935.6 L968.4 933.3 L972.8 930.9 L977.2 928.6 L981.5 926.3 L985.9 924.0 L990.3 921.3 L994.7 918.7 L999.1 916.0 L1003.5 913.4 L1007.9 910.7 L1012.3 908.3 L1016.7 905.8 L1021.1 903.3 L1025.4 900.8 L1029.8 896.2 L1034.2 893.2 L1038.6 890.0 L1043.0 886.8 L1047.4 883.4 L1051.8 880.0 L1056.2 876.6 L1060.6 873.2 L1064.9 869.9 L1069.3 866.6 L1073.7 863.5 L1078.1 860.5 L1082.5 857.6 L1086.9 854.9 L1091.3 852.4 L1095.7 850.1 L1100.1 847.9 L1104.5 845.9 L1108.8 844.0 L1113.2 842.2 L1117.6 840.6 L1122.0 839.2 L1126.4 837.8 L1130.8 836.6 L1135.2 835.5 L1139.6 834.4 L1144.0 833.5 L1148.4 832.7 L1152.7 831.9 L1157.1 831.2 L1161.5 830.6 L1165.9 830.0 L1170.3 829.5 L1174.7 829.1 L1179.1 828.7 L1183.5 828.4 L1187.9 828.1 L1192.2 827.8 L1196.6 827.7 L1201.0 827.5 L1205.4 827.4 L1209.8 827.3 L1214.2 827.3 L1218.6 827.3 L1223.0 827.4 L1227.4 827.5 L1231.8 827.6 L1236.1 827.7 L1240.5 827.9 L1244.9 828.1 L1249.3 828.3 L1253.7 828.5 L1258.1 828.8 L1262.5 829.1 L1266.9 829.4 L1271.3 829.7 L1275.6 830.0 L1280.0 830.3 L1284.4 830.7 L1288.8 831.0 L1293.2 831.3 L1297.6 831.7 L1302.0 832.1 L1306.4 832.4 L1310.8 832.7 L1315.2 833.1 L1319.5 833.4 L1323.9 833.8 L1328.3 834.1 L1332.7 834.4 L1337.1 834.7 L1341.5 834.9 L1345.9 835.2 L1350.3 835.4 L1354.7 835.6 L1359.1 835.8 L1363.4 836.0 L1367.8 836.1 L1372.2 836.2 L1376.6 836.3 L1382.2 836.3 L1382.2 916.7 L1376.6 915.8 L1372.2 915.0 L1367.8 914.1 L1363.4 913.3 L1359.1 912.4 L1354.7 911.6 L1350.3 910.7 L1345.9 909.9 L1341.5 909.1 L1337.1 908.3 L1332.7 907.4 L1328.3 906.7 L1323.9 905.9 L1319.5 905.1 L1315.2 904.4 L1310.8 903.6 L1306.4 902.9 L1302.0 902.2 L1297.6 901.5 L1293.2 900.8 L1288.8 900.2 L1284.4 899.5 L1280.0 898.9 L1275.6 898.3 L1271.3 897.7 L1266.9 897.2 L1262.5 896.6 L1258.1 896.1 L1253.7 895.7 L1249.3 895.2 L1244.9 894.8 L1240.5 894.4 L1236.1 894.0 L1231.8 893.7 L1227.4 893.3 L1223.0 893.1 L1218.6 892.8 L1214.2 892.6 L1209.8 892.4 L1205.4 892.2 L1201.0 892.1 L1196.6 892.0 L1192.2 892.0 L1187.9 892.0 L1183.5 892.0 L1179.1 892.1 L1174.7 892.2 L1170.3 892.3 L1165.9 892.5 L1161.5 892.8 L1157.1 893.0 L1152.7 893.3 L1148.4 893.7 L1144.0 894.1 L1139.6 894.6 L1135.2 895.0 L1130.8 895.6 L1126.4 896.1 L1122.0 896.7 L1117.6 897.3 L1113.2 898.0 L1108.8 898.7 L1104.5 899.4 L1100.1 900.1 L1095.7 900.9 L1091.3 901.7 L1086.9 902.5 L1082.5 903.3 L1078.1 904.1 L1073.7 905.0 L1069.3 905.8 L1064.9 906.7 L1060.6 907.5 L1056.2 908.4 L1051.8 909.3 L1047.4 910.2 L1043.0 911.1 L1038.6 912.0 L1034.2 912.8 L1029.8 913.7 L1025.4 910.1 L1021.1 912.6 L1016.7 915.0 L1012.3 917.5 L1007.9 920.0 L1003.5 922.7 L999.1 925.3 L994.7 928.0 L990.3 930.6 L985.9 933.3 L981.5 935.8 L977.2 938.3 L972.8 940.8 L968.4 943.3 L964.0 945.8 L959.6 948.4 L955.2 951.0 L950.8 953.6 L946.4 956.2 L942.0 958.8 L937.7 962.0 L933.3 965.3 L928.9 968.6 L924.5 971.9 L920.1 975.2 L915.7 978.1 L911.3 980.7 L906.9 980.1 L902.5 980.5 L898.1 982.3 L893.8 984.0 L889.4 985.6 L885.0 987.2 L880.6 988.7 L876.2 990.5 L871.8 992.1 L867.4 991.8 L863.0 992.8 L858.6 994.4 L854.2 996.0 L849.9 998.5 L845.5 1000.6 L841.1 1001.9 L836.7 1003.3 L832.3 1004.6 L827.9 1005.9 L823.5 1007.0 L819.1 1008.0 L814.7 1009.2 L810.4 1011.4 L806.0 1013.7 L801.6 1015.9 L797.2 1018.6 L792.8 1019.1 L788.4 1016.7 L784.0 1012.4 L779.6 1008.2 L775.2 1005.6 L770.8 1005.7 L766.5 1005.7 L762.1 1005.8 L757.7 1005.9 L753.3 1006.2 L748.9 1006.5 L744.5 1006.8 L740.1 1007.1 L735.7 1007.5 L731.3 1008.1 L726.9 1009.7 L722.6 1010.7 L718.2 1011.3 L713.8 1011.9 L709.4 1012.5 L705.0 1012.9 L700.6 1013.2 L696.2 1013.4 L691.8 1013.6 L687.4 1013.8 L683.1 1014.1 L678.7 1014.3 L674.3 1014.5 L669.9 1014.7 L665.5 1015.0 L661.1 1015.2 L656.7 1015.4 L652.3 1016.1 L647.9 1016.8 L643.5 1017.6 L639.2 1018.3 L634.8 1019.0 L630.4 1019.8 L626.0 1020.5 L621.6 1021.2 L617.2 1021.9 L612.8 1022.1 L608.4 1022.3 L604.0 1022.5 L599.7 1022.7 L595.3 1022.9 L590.9 1023.4 L586.5 1024.6 L582.1 1025.7 L577.7 1026.9 L573.3 1029.0 L568.9 1031.0 L564.5 1031.4 L560.1 1030.1 L555.8 1028.8 L551.4 1028.3 L547.0 1028.2 L542.6 1028.1 L538.2 1029.0 L533.8 1030.1 L529.4 1031.3 L525.0 1030.8 L520.6 1029.8 L516.2 1028.8 L511.9 1028.8 L507.5 1028.8 L503.1 1028.8 L498.7 1030.1 L494.3 1031.4 L489.9 1032.6 L485.5 1033.1 L481.1 1033.5 L476.7 1034.0 L472.4 1034.5 L468.0 1035.0 L463.6 1035.7 L459.2 1036.7 L454.8 1037.6 L450.4 1038.8 L446.0 1040.5 L441.6 1040.2 L437.2 1039.9 L432.8 1036.3 L428.5 1032.6 L424.1 1030.9 L419.7 1030.2 L415.3 1030.1 L410.9 1030.0 L406.5 1029.9 L402.1 1029.8 L397.7 1029.7 L393.3 1029.9 L389.0 1030.5 L384.6 1031.2 L380.2 1032.0 L375.8 1032.8 L371.4 1033.7 L367.0 1034.6 L362.6 1035.4 L358.2 1036.3 L353.8 1036.7 L349.4 1036.7 L345.1 1036.7 L340.7 1036.2 L336.3 1035.6 L331.9 1034.9 L327.5 1034.9 L323.1 1035.1 L318.7 1035.2 L314.3 1034.7 L309.9 1034.1 L305.5 1033.5 L301.2 1033.6 L296.8 1033.8 L292.4 1034.1Z" fill="#3498DB" fill-opacity="0.25"/>
<path d="M292.4 1002.8 L296.8 1002.4 L301.2 1001.9 L305.5 1001.6 L309.9 1002.7 L314.3 1003.7 L318.7 1004.6 L323.1 1003.5 L327.5 1002.4 L331.9 1001.8 L336.3 1003.1 L340.7 1004.5 L345.1 1005.5 L349.4 1005.7 L353.8 1005.8 L358.2 1005.6 L362.6 1004.8 L367.0 1004.0 L371.4 1003.1 L375.8 1002.2 L380.2 1001.4 L384.6 1000.8 L389.0 1000.6 L393.3 1000.3 L397.7 1000.2 L402.1 1000.2 L406.5 1000.2 L410.9 1000.2 L415.3 1000.2 L419.7 1000.2 L424.1 1000.6 L428.5 1002.3 L432.8 1006.8 L437.2 1009.2 L441.6 1010.3 L446.0 1009.9 L450.4 1008.3 L454.8 1006.8 L459.2 1005.4 L463.6 1004.9 L468.0 1004.5 L472.4 1003.9 L476.7 1003.1 L481.1 1002.2 L485.5 1001.4 L489.9 1001.0 L494.3 1000.5 L498.7 1000.2 L503.1 1000.0 L507.5 1000.5 L511.9 1001.0 L516.2 1001.6 L520.6 1003.4 L525.0 1005.1 L529.4 1006.3 L533.8 1005.4 L538.2 1004.5 L542.6 1003.7 L547.0 1003.0 L551.4 1002.4 L555.8 1002.5 L560.1 1003.7 L564.5 1003.2 L568.9 1002.6 L573.3 1002.1 L577.7 1001.5 L582.1 1000.8 L586.5 999.9 L590.9 999.1 L595.3 998.6 L599.7 998.3 L604.0 997.9 L608.4 997.6 L612.8 997.3 L617.2 996.9 L621.6 996.6 L626.0 996.3 L630.4 995.9 L634.8 995.6 L639.2 995.3 L643.5 994.9 L647.9 994.5 L652.3 994.0 L656.7 993.6 L661.1 993.3 L665.5 992.9 L669.9 992.6 L674.3 992.3 L678.7 991.9 L683.1 991.5 L687.4 991.0 L691.8 990.4 L696.2 989.9 L700.6 989.3 L705.0 988.8 L709.4 988.1 L713.8 987.1 L718.2 986.3 L722.6 985.4 L726.9 984.7 L731.3 984.5 L735.7 984.2 L740.1 984.0 L744.5 983.8 L748.9 983.6 L753.3 983.4 L757.7 983.2 L762.1 983.0 L766.5 983.2 L770.8 983.6 L775.2 984.1 L779.6 986.4 L784.0 989.9 L788.4 992.9 L792.8 994.2 L797.2 991.8 L801.6 989.4 L806.0 987.7 L810.4 986.3 L814.7 984.9 L819.1 983.7 L823.5 982.6 L827.9 981.5 L832.3 980.1 L836.7 978.7 L841.1 977.3 L845.5 975.9 L849.9 974.5 L854.2 973.1 L858.6 972.7 L863.0 972.2 L867.4 975.9 L871.8 973.6 L876.2 971.3 L880.6 968.9 L885.0 966.5 L889.4 964.1 L893.8 961.6 L898.1 959.2 L902.5 961.1 L906.9 964.3 L911.3 968.2 L915.7 965.1 L920.1 962.0 L924.5 959.0 L928.9 955.9 L933.3 952.8 L937.7 949.8 L942.0 946.7 L946.4 944.5 L950.8 942.3 L955.2 940.0 L959.6 937.8 L964.0 935.6 L968.4 933.3 L972.8 930.9 L977.2 928.6 L981.5 926.3 L985.9 924.0 L990.3 921.3 L994.7 918.7 L999.1 916.0 L1003.5 913.4 L1007.9 910.7 L1012.3 908.3 L1016.7 905.8 L1021.1 903.3 L1025.4 900.8 L1029.8 896.2 L1034.2 892.9 L1038.6 890.1 L1043.0 886.5 L1047.4 881.1 L1051.8 873.3 L1056.2 865.5 L1060.6 859.7 L1064.9 855.4 L1069.3 851.7 L1073.7 848.0 L1078.1 844.1 L1082.5 840.3 L1086.9 836.4 L1091.3 832.7 L1095.7 829.0 L1100.1 825.6 L1104.5 822.4 L1108.8 819.5 L1113.2 817.0 L1117.6 814.8 L1122.0 813.1 L1126.4 811.8 L1130.8 810.7 L1135.2 809.9 L1139.6 809.2 L1144.0 808.6 L1148.4 808.0 L1152.7 807.5 L1157.1 807.1 L1161.5 806.7 L1165.9 806.4 L1170.3 806.2 L1174.7 806.0 L1179.1 805.9 L1183.5 805.8 L1187.9 805.8 L1192.2 805.8 L1196.6 805.9 L1201.0 806.0 L1205.4 806.2 L1209.8 806.4 L1214.2 806.7 L1218.6 806.9 L1223.0 807.3 L1227.4 807.6 L1231.8 808.0 L1236.1 808.5 L1240.5 808.9 L1244.9 809.4 L1249.3 809.9 L1253.7 810.4 L1258.1 811.0 L1262.5 811.6 L1266.9 812.2 L1271.3 812.8 L1275.6 813.4 L1280.0 814.1 L1284.4 814.7 L1288.8 815.4 L1293.2 816.0 L1297.6 816.7 L1302.0 817.4 L1306.4 818.1 L1310.8 818.8 L1315.2 819.4 L1319.5 820.1 L1323.9 820.8 L1328.3 821.4 L1332.7 822.1 L1337.1 822.7 L1341.5 823.4 L1345.9 824.0 L1350.3 824.6 L1354.7 825.1 L1359.1 825.7 L1363.4 826.2 L1367.8 826.7 L1372.2 827.2 L1376.6 827.7 L1382.2 828.1 L1382.2 906.2 L1376.6 905.3 L1372.2 904.5 L1367.8 903.7 L1363.4 902.8 L1359.1 902.0 L1354.7 901.1 L1350.3 900.3 L1345.9 899.4 L1341.5 898.6 L1337.1 897.7 L1332.7 896.8 L1328.3 896.0 L1323.9 895.1 L1319.5 894.3 L1315.2 893.4 L1310.8 892.6 L1306.4 891.7 L1302.0 890.9 L1297.6 890.1 L1293.2 889.3 L1288.8 888.5 L1284.4 887.7 L1280.0 887.0 L1275.6 886.2 L1271.3 885.5 L1266.9 884.8 L1262.5 884.1 L1258.1 883.5 L1253.7 882.8 L1249.3 882.2 L1244.9 881.6 L1240.5 881.1 L1236.1 880.5 L1231.8 880.0 L1227.4 879.6 L1223.0 879.1 L1218.6 878.7 L1214.2 878.3 L1209.8 878.0 L1205.4 877.7 L1201.0 877.4 L1196.6 877.2 L1192.2 877.0 L1187.9 876.9 L1183.5 876.8 L1179.1 876.8 L1174.7 876.8 L1170.3 876.8 L1165.9 876.9 L1161.5 877.0 L1157.1 877.2 L1152.7 877.5 L1148.4 877.8 L1144.0 878.1 L1139.6 878.5 L1135.2 879.0 L1130.8 879.5 L1126.4 880.1 L1122.0 880.7 L1117.6 881.5 L1113.2 882.2 L1108.8 883.1 L1104.5 884.0 L1100.1 884.9 L1095.7 886.0 L1091.3 887.1 L1086.9 888.3 L1082.5 889.6 L1078.1 890.9 L1073.7 892.3 L1069.3 893.9 L1064.9 895.4 L1060.6 897.1 L1056.2 899.0 L1051.8 900.9 L1047.4 903.0 L1043.0 905.4 L1038.6 907.9 L1034.2 910.6 L1029.8 913.6 L1025.4 910.1 L1021.1 912.6 L1016.7 915.0 L1012.3 917.5 L1007.9 920.0 L1003.5 922.7 L999.1 925.3 L994.7 928.0 L990.3 930.6 L985.9 933.3 L981.5 935.8 L977.2 938.3 L972.8 940.8 L968.4 943.3 L964.0 945.8 L959.6 948.4 L955.2 951.0 L950.8 953.6 L946.4 956.2 L942.0 958.8 L937.7 962.0 L933.3 965.3 L928.9 968.6 L924.5 971.9 L920.1 975.2 L915.7 978.1 L911.3 980.7 L906.9 980.1 L902.5 980.5 L898.1 982.3 L893.8 984.0 L889.4 985.6 L885.0 987.2 L880.6 988.7 L876.2 990.5 L871.8 992.1 L867.4 991.8 L863.0 992.8 L858.6 994.4 L854.2 996.0 L849.9 998.5 L845.5 1000.6 L841.1 1001.9 L836.7 1003.3 L832.3 1004.6 L827.9 1005.9 L823.5 1007.0 L819.1 1008.0 L814.7 1009.2 L810.4 1011.4 L806.0 1013.7 L801.6 1015.9 L797.2 1018.6 L792.8 1019.1 L788.4 1016.7 L784.0 1012.4 L779.6 1008.2 L775.2 1005.6 L770.8 1005.7 L766.5 1005.7 L762.1 1005.8 L757.7 1005.9 L753.3 1006.2 L748.9 1006.5 L744.5 1006.8 L740.1 1007.1 L735.7 1007.5 L731.3 1008.1 L726.9 1009.7 L722.6 1010.7 L718.2 1011.3 L713.8 1011.9 L709.4 1012.5 L705.0 1012.9 L700.6 1013.2 L696.2 1013.4 L691.8 1013.6 L687.4 1013.8 L683.1 1014.1 L678.7 1014.3 L674.3 1014.5 L669.9 1014.7 L665.5 1015.0 L661.1 1015.2 L656.7 1015.4 L652.3 1016.1 L647.9 1016.8 L643.5 1017.6 L639.2 1018.3 L634.8 1019.0 L630.4 1019.8 L626.0 1020.5 L621.6 1021.2 L617.2 1021.9 L612.8 1022.1 L608.4 1022.3 L604.0 1022.5 L599.7 1022.7 L595.3 1022.9 L590.9 1023.4 L586.5 1024.6 L582.1 1025.7 L577.7 1026.9 L573.3 1029.0 L568.9 1031.0 L564.5 1031.4 L560.1 1030.1 L555.8 1028.8 L551.4 1028.3 L547.0 1028.2 L542.6 1028.1 L538.2 1029.0 L533.8 1030.1 L529.4 1031.3 L525.0 1030.8 L520.6 1029.8 L516.2 1028.8 L511.9 1028.8 L507.5 1028.8 L503.1 1028.8 L498.7 1030.1 L494.3 1031.4 L489.9 1032.6 L485.5 1033.1 L481.1 1033.5 L476.7 1034.0 L472.4 1034.5 L468.0 1035.0 L463.6 1035.7 L459.2 1036.7 L454.8 1037.6 L450.4 1038.8 L446.0 1040.5 L441.6 1040.2 L437.2 1039.9 L432.8 1036.3 L428.5 1032.6 L424.1 1030.9 L419.7 1030.2 L415.3 1030.1 L410.9 1030.0 L406.5 1029.9 L402.1 1029.8 L397.7 1029.7 L393.3 1029.9 L389.0 1030.5 L384.6 1031.2 L380.2 1032.0 L375.8 1032.8 L371.4 1033.7 L367.0 1034.6 L362.6 1035.4 L358.2 1036.3 L353.8 1036.7 L349.4 1036.7 L345.1 1036.7 L340.7 1036.2 L336.3 1035.6 L331.9 1034.9 L327.5 1034.9 L323.1 1035.1 L318.7 1035.2 L314.3 1034.7 L309.9 1034.1 L305.5 1033.5 L301.2 1033.6 L296.8 1033.8 L292.4 1034.1Z" fill="#E74C3C" fill-opacity="0.25"/>
<path d="M283.6 1018.1 L288.0 1017.8 L292.4 1017.6 L296.8 1017.8 L301.2 1018.3 L305.5 1018.8 L309.9 1019.3 L314.3 1019.5 L318.7 1019.4 L323.1 1019.2 L327.5 1019.0 L331.9 1019.2 L336.3 1019.5 L340.7 1020.0 L345.1 1020.5 L349.4 1020.8 L353.8 1021.0 L358.2 1020.7 L362.6 1020.0 L367.0 1019.0 L371.4 1018.1 L375.8 1017.0 L380.2 1016.0 L384.6 1015.8 L389.0 1016.0 L393.3 1016.2 L397.7 1016.4 L402.1 1016.6 L406.5 1016.7 L410.9 1016.7 L415.3 1016.7 L419.7 1016.7 L424.1 1016.7 L428.5 1019.5 L432.8 1022.3 L437.2 1023.9 L441.6 1023.8 L446.0 1023.7 L450.4 1023.0 L454.8 1021.6 L459.2 1020.4 L463.6 1019.6 L468.0 1018.9 L472.4 1018.1 L476.7 1017.3 L481.1 1016.3 L485.5 1015.4 L489.9 1014.6 L494.3 1013.9 L498.7 1013.3 L503.1 1013.0 L507.5 1013.1 L511.9 1013.5 L516.2 1013.9 L520.6 1015.2 L525.0 1017.0 L529.4 1017.6 L533.8 1017.3 L538.2 1016.7 L542.6 1015.9 L547.0 1015.4 L551.4 1015.8 L555.8 1016.4 L560.1 1016.7 L564.5 1016.5 L568.9 1015.9 L573.3 1014.9 L577.7 1013.9 L582.1 1013.1 L586.5 1012.4 L590.9 1011.7 L595.3 1011.1 L599.7 1010.6 L604.0 1010.1 L608.4 1009.7 L612.8 1009.3 L617.2 1008.9 L621.6 1008.6 L626.0 1008.2 L630.4 1007.8 L634.8 1007.4 L639.2 1007.0 L643.5 1006.5 L647.9 1006.0 L652.3 1005.5 L656.7 1005.0 L661.1 1004.5 L665.5 1004.1 L669.9 1003.6 L674.3 1003.3 L678.7 1003.0 L683.1 1002.9 L687.4 1002.8 L691.8 1002.7 L696.2 1002.6 L700.6 1002.6 L705.0 1002.4 L709.4 1001.9 L713.8 1000.0 L718.2 998.1 L722.6 997.3 L726.9 996.8 L731.3 996.4 L735.7 996.0 L740.1 995.7 L744.5 995.4 L748.9 995.0 L753.3 994.6 L757.7 994.2 L762.1 994.0 L766.5 994.0 L770.8 994.3 L775.2 994.7 L779.6 996.3 L784.0 1001.0 L788.4 1004.5 L792.8 1006.1 L797.2 1005.6 L801.6 1002.5 L806.0 1000.2 L810.4 998.5 L814.7 996.8 L819.1 995.0 L823.5 993.3 L827.9 991.7 L832.3 990.1 L836.7 988.4 L841.1 986.8 L845.5 985.4 L849.9 984.2 L854.2 983.4 L858.6 982.7 L863.0 982.4 L867.4 986.1 L871.8 984.3 L876.2 980.6 L880.6 977.6 L885.0 974.6 L889.4 971.6 L893.8 969.4 L898.1 968.5 L902.5 972.7 L906.9 976.8 L911.3 975.5 L915.7 972.8 L920.1 970.0 L924.5 966.8 L928.9 963.2 L933.3 959.5 L937.7 955.9 L942.0 952.7 L946.4 949.9 L950.8 947.3 L955.2 944.8 L959.6 942.4 L964.0 940.2 L968.4 938.1 L972.8 936.0 L977.2 933.9 L981.5 931.8 L985.9 929.6 L990.3 927.2 L994.7 924.8 L999.1 922.3 L1003.5 919.9 L1007.9 917.5 L1012.3 915.2 L1016.7 913.1 L1021.1 910.8 L1025.4 908.2 L1029.8 905.0 L1034.2 902.3 L1038.6 899.9 L1043.0 897.7 L1047.4 895.5 L1051.8 893.4 L1056.2 891.4 L1060.6 889.4 L1064.9 887.5 L1069.3 885.7 L1073.7 883.9 L1078.1 882.3 L1082.5 880.6 L1086.9 879.1 L1091.3 877.7 L1095.7 876.4 L1100.1 875.1 L1104.5 874.0 L1108.8 872.9 L1113.2 871.9 L1117.6 871.0 L1122.0 870.1 L1126.4 869.4 L1130.8 868.7 L1135.2 868.0 L1139.6 867.4 L1144.0 866.9 L1148.4 866.4 L1152.7 866.0 L1157.1 865.6 L1161.5 865.2 L1165.9 865.0 L1170.3 864.7 L1174.7 864.5 L1179.1 864.3 L1183.5 864.2 L1187.9 864.1 L1192.2 864.0 L1196.6 864.0 L1201.0 864.0 L1205.4 864.1 L1209.8 864.2 L1214.2 864.3 L1218.6 864.5 L1223.0 864.7 L1227.4 864.9 L1231.8 865.1 L1236.1 865.4 L1240.5 865.7 L1244.9 866.0 L1249.3 866.4 L1253.7 866.8 L1258.1 867.2 L1262.5 867.6 L1266.9 868.1 L1271.3 868.5 L1275.6 869.0 L1280.0 869.5 L1284.4 870.1 L1288.8 870.6 L1293.2 871.2 L1297.6 871.8 L1302.0 872.4 L1306.4 873.0 L1310.8 873.6 L1315.2 874.2 L1319.5 874.8 L1323.9 875.5 L1328.3 876.1 L1332.7 876.8 L1337.1 877.5 L1341.5 878.2 L1345.9 878.8 L1350.3 879.5 L1354.7 880.2 L1359.1 880.9 L1363.4 881.6 L1367.8 882.3 L1372.2 883.0 L1376.6 883.6 L1381.0 884.3 L1389.8 885.7" fill="none" stroke="#3498DB" stroke-width="11" stroke-linejoin="round" clip-path="url(#cp1)"/>
<path d="M283.6 1018.1 L288.0 1017.8 L292.4 1017.6 L296.8 1017.8 L301.2 1018.3 L305.5 1018.8 L309.9 1019.3 L314.3 1019.5 L318.7 1019.4 L323.1 1019.2 L327.5 1019.0 L331.9 1019.2 L336.3 1019.5 L340.7 1020.0 L345.1 1020.5 L349.4 1020.8 L353.8 1021.0 L358.2 1020.7 L362.6 1020.0 L367.0 1019.0 L371.4 1018.1 L375.8 1017.0 L380.2 1016.0 L384.6 1015.8 L389.0 1016.0 L393.3 1016.2 L397.7 1016.4 L402.1 1016.6 L406.5 1016.7 L410.9 1016.7 L415.3 1016.7 L419.7 1016.7 L424.1 1016.7 L428.5 1019.5 L432.8 1022.3 L437.2 1023.9 L441.6 1023.8 L446.0 1023.7 L450.4 1023.0 L454.8 1021.6 L459.2 1020.4 L463.6 1019.6 L468.0 1018.9 L472.4 1018.1 L476.7 1017.3 L481.1 1016.3 L485.5 1015.4 L489.9 1014.6 L494.3 1013.9 L498.7 1013.3 L503.1 1013.0 L507.5 1013.1 L511.9 1013.5 L516.2 1013.9 L520.6 1015.2 L525.0 1017.0 L529.4 1017.6 L533.8 1017.3 L538.2 1016.7 L542.6 1015.9 L547.0 1015.4 L551.4 1015.8 L555.8 1016.4 L560.1 1016.7 L564.5 1016.5 L568.9 1015.9 L573.3 1014.9 L577.7 1013.9 L582.1 1013.1 L586.5 1012.4 L590.9 1011.7 L595.3 1011.1 L599.7 1010.6 L604.0 1010.1 L608.4 1009.7 L612.8 1009.3 L617.2 1008.9 L621.6 1008.6 L626.0 1008.2 L630.4 1007.8 L634.8 1007.4 L639.2 1007.0 L643.5 1006.5 L647.9 1006.0 L652.3 1005.5 L656.7 1005.0 L661.1 1004.5 L665.5 1004.1 L669.9 1003.6 L674.3 1003.3 L678.7 1003.0 L683.1 1002.9 L687.4 1002.8 L691.8 1002.7 L696.2 1002.6 L700.6 1002.6 L705.0 1002.4 L709.4 1001.9 L713.8 1000.0 L718.2 998.1 L722.6 997.3 L726.9 996.8 L731.3 996.4 L735.7 996.0 L740.1 995.7 L744.5 995.4 L748.9 995.0 L753.3 994.6 L757.7 994.2 L762.1 994.0 L766.5 994.0 L770.8 994.3 L775.2 994.7 L779.6 996.3 L784.0 1001.0 L788.4 1004.5 L792.8 1006.1 L797.2 1005.6 L801.6 1002.5 L806.0 1000.2 L810.4 998.5 L814.7 996.8 L819.1 995.0 L823.5 993.3 L827.9 991.7 L832.3 990.1 L836.7 988.4 L841.1 986.8 L845.5 985.4 L849.9 984.2 L854.2 983.4 L858.6 982.7 L863.0 982.4 L867.4 986.1 L871.8 984.3 L876.2 980.6 L880.6 977.6 L885.0 974.6 L889.4 971.6 L893.8 969.4 L898.1 968.5 L902.5 972.7 L906.9 976.8 L911.3 975.5 L915.7 972.8 L920.1 970.0 L924.5 966.8 L928.9 963.2 L933.3 959.5 L937.7 955.9 L942.0 952.7 L946.4 949.9 L950.8 947.3 L955.2 944.8 L959.6 942.4 L964.0 940.2 L968.4 938.1 L972.8 936.0 L977.2 933.9 L981.5 931.8 L985.9 929.6 L990.3 927.2 L994.7 924.8 L999.1 922.3 L1003.5 919.9 L1007.9 917.5 L1012.3 915.2 L1016.7 913.1 L1021.1 910.8 L1025.4 908.2 L1029.8 905.0 L1034.2 901.8 L1038.6 898.3 L1043.0 894.6 L1047.4 891.0 L1051.8 887.4 L1056.2 883.9 L1060.6 880.7 L1064.9 877.6 L1069.3 874.7 L1073.7 871.9 L1078.1 869.4 L1082.5 867.0 L1086.9 864.8 L1091.3 862.7 L1095.7 860.7 L1100.1 859.0 L1104.5 857.3 L1108.8 855.8 L1113.2 854.4 L1117.6 853.1 L1122.0 852.0 L1126.4 850.9 L1130.8 850.0 L1135.2 849.1 L1139.6 848.4 L1144.0 847.7 L1148.4 847.2 L1152.7 846.7 L1157.1 846.3 L1161.5 846.0 L1165.9 845.8 L1170.3 845.6 L1174.7 845.5 L1179.1 845.5 L1183.5 845.6 L1187.9 845.7 L1192.2 845.9 L1196.6 846.1 L1201.0 846.4 L1205.4 846.8 L1209.8 847.2 L1214.2 847.6 L1218.6 848.1 L1223.0 848.7 L1227.4 849.2 L1231.8 849.8 L1236.1 850.5 L1240.5 851.1 L1244.9 851.8 L1249.3 852.5 L1253.7 853.2 L1258.1 854.0 L1262.5 854.8 L1266.9 855.6 L1271.3 856.4 L1275.6 857.3 L1280.0 858.1 L1284.4 859.0 L1288.8 859.9 L1293.2 860.8 L1297.6 861.7 L1302.0 862.6 L1306.4 863.6 L1310.8 864.5 L1315.2 865.5 L1319.5 866.5 L1323.9 867.5 L1328.3 868.5 L1332.7 869.5 L1337.1 870.5 L1341.5 871.5 L1345.9 872.5 L1350.3 873.5 L1354.7 874.5 L1359.1 875.6 L1363.4 876.6 L1367.8 877.6 L1372.2 878.6 L1376.6 879.6 L1381.0 880.7 L1389.8 882.7" fill="none" stroke="#E74C3C" stroke-width="11" stroke-linejoin="round" clip-path="url(#cp1)"/>
<line x1="283.6" x2="1381.0" y1="880.4" y2="880.4" stroke="#7a7a7a" stroke-width="4.6" stroke-dasharray="19.1 9.32"/>
<line x1="283.6" x2="1381.0" y1="834.0" y2="834.0" stroke="#7a7a7a" stroke-width="4.6" stroke-dasharray="19.1 9.32"/>
<path d="M283.6 1014.4 L288.0 1012.5 L292.4 1012.1 L296.8 1013.0 L301.2 1013.9 L305.5 1016.5 L309.9 1024.1 L314.3 1031.3 L318.7 1022.3 L323.1 1013.3 L327.5 1019.5 L331.9 1026.9 L336.3 1032.2 L340.7 1021.2 L345.1 1022.5 L349.4 1015.3 L353.8 1013.5 L358.2 1013.0 L362.6 1012.1 L367.0 1013.0 L371.4 1016.7 L375.8 1020.4 L380.2 1016.7 L384.6 1018.6 L389.0 1020.9 L393.3 1021.8 L397.7 1022.5 L402.1 991.5 L406.5 988.3 L410.9 1008.6 L415.3 1013.7 L419.7 1009.1 L424.1 1013.0 L428.5 1020.4 L432.8 1030.3 L437.2 1030.6 L441.6 1029.2 L446.0 1033.4 L450.4 1023.2 L454.8 1008.7 L459.2 1031.6 L463.6 1023.4 L468.0 1029.3 L472.4 1030.6 L476.7 1030.0 L481.1 1023.9 L485.5 1011.9 L489.9 1011.2 L494.3 1029.6 L498.7 1016.7 L503.1 1008.5 L507.5 1015.8 L511.9 1028.8 L516.2 1039.0 L520.6 1041.0 L525.0 1025.8 L529.4 1016.2 L533.8 1029.4 L538.2 1036.2 L542.6 1039.0 L547.0 1037.5 L551.4 1037.8 L555.8 1032.5 L560.1 1027.1 L564.5 1012.4 L568.9 1006.6 L573.3 1025.6 L577.7 1038.2 L582.1 1026.9 L586.5 1018.6 L590.9 1013.2 L595.3 1012.4 L599.7 1017.8 L604.0 1017.2 L608.4 1017.2 L612.8 1012.1 L617.2 1002.2 L621.6 1007.6 L626.0 1010.0 L630.4 1024.3 L634.8 1008.7 L639.2 1000.8 L643.5 1007.3 L647.9 1019.2 L652.3 1007.3 L656.7 1010.4 L661.1 1005.3 L665.5 993.4 L669.9 990.8 L674.3 990.9 L678.7 984.1 L683.1 985.2 L687.4 988.4 L691.8 984.4 L696.2 975.3 L700.6 984.3 L705.0 1000.2 L709.4 996.1 L713.8 999.1 L718.2 1003.6 L722.6 1010.4 L726.9 996.7 L731.3 986.4 L735.7 983.2 L740.1 998.8 L744.5 1006.9 L748.9 1011.6 L753.3 992.0 L757.7 988.9 L762.1 991.7 L766.5 996.5 L770.8 990.6 L775.2 991.7 L779.6 990.6 L784.0 1015.4 L788.4 1008.4 L792.8 1001.9 L797.2 1000.5 L801.6 1001.3 L806.0 990.0 L810.4 995.4 L814.7 1005.2 L819.1 994.1 L823.5 981.7 L827.9 1001.3 L832.3 1002.2 L836.7 1005.2 L841.1 976.7 L845.5 987.2 L849.9 973.0 L854.2 964.8 L858.6 964.6 L863.0 982.2 L867.4 966.5 L871.8 979.8 L876.2 982.4 L880.6 976.1 L885.0 965.5 L889.4 960.9 L893.8 969.6 L898.1 953.5 L902.5 957.2 L906.9 975.2 L911.3 972.2 L915.7 964.3 L920.1 953.0 L924.5 962.7 L928.9 947.7 L933.3 935.9 L937.7 952.5 L942.0 956.3 L946.4 945.3 L950.8 937.7 L955.2 937.4 L959.6 942.2 L964.0 932.8 L968.4 934.2 L972.8 935.3 L977.2 943.7 L981.5 932.3 L985.9 927.5 L990.3 935.8 L994.7 934.9 L999.1 931.1 L1003.5 925.1 L1007.9 912.9 L1012.3 904.1 L1016.7 909.6 L1021.1 916.5 L1025.4 910.5 L1029.8 904.4" fill="none" stroke="#000" stroke-width="8.9" stroke-linejoin="round" stroke-linecap="square" clip-path="url(#cp1)"/>
<path d="M283.6 646.1V1112.2H1383.5" fill="none" stroke="#000" stroke-width="5.0" stroke-linejoin="miter"/>
<line x1="261.7" x2="283.6" y1="1019.5" y2="1019.5" stroke="#000" stroke-width="5.0"/>
<text class="t" x="242.5" y="1035.3" text-anchor="end">0</text>
<line x1="261.7" x2="283.6" y1="880.4" y2="880.4" stroke="#000" stroke-width="5.0"/>
<text class="t" x="242.5" y="896.2" text-anchor="end">1.5</text>
<line x1="261.7" x2="283.6" y1="834.0" y2="834.0" stroke="#000" stroke-width="5.0"/>
<text class="t" x="242.5" y="849.8" text-anchor="end">2</text>
<line x1="261.7" x2="283.6" y1="648.6" y2="648.6" stroke="#000" stroke-width="5.0"/>
<text class="t" x="242.5" y="664.4" text-anchor="end">4</text>
<line x1="283.6" x2="283.6" y1="1112.2" y2="1133.2" stroke="#000" stroke-width="5.0"/>
<line x1="503.1" x2="503.1" y1="1112.2" y2="1133.2" stroke="#000" stroke-width="5.0"/>
<line x1="722.6" x2="722.6" y1="1112.2" y2="1133.2" stroke="#000" stroke-width="5.0"/>
<line x1="942.0" x2="942.0" y1="1112.2" y2="1133.2" stroke="#000" stroke-width="5.0"/>
<line x1="1161.5" x2="1161.5" y1="1112.2" y2="1133.2" stroke="#000" stroke-width="5.0"/>
<line x1="1381.0" x2="1381.0" y1="1112.2" y2="1133.2" stroke="#000" stroke-width="5.0"/>
<text class="l nk" x="832.3" y="620.9" text-anchor="middle">Well-below 2 <tspan class="rg" dx="3.7" dy="-11.3">°</tspan><tspan dx="4.9" dy="11.3">C</tspan></text>
<text class="t" x="305.4" y="692.4">(b)</text>
</g>
<clipPath id="cp2"><rect x="283.6" y="1222.7" width="1097.4" height="468.6"/></clipPath>
<g>
<path d="M292.4 1581.9 L296.8 1581.5 L301.2 1581.0 L305.5 1580.7 L309.9 1581.8 L314.3 1582.8 L318.7 1583.7 L323.1 1582.6 L327.5 1581.5 L331.9 1580.9 L336.3 1582.2 L340.7 1583.6 L345.1 1584.6 L349.4 1584.8 L353.8 1584.9 L358.2 1584.7 L362.6 1583.9 L367.0 1583.1 L371.4 1582.2 L375.8 1581.3 L380.2 1580.5 L384.6 1579.9 L389.0 1579.7 L393.3 1579.4 L397.7 1579.3 L402.1 1579.3 L406.5 1579.3 L410.9 1579.3 L415.3 1579.3 L419.7 1579.3 L424.1 1579.7 L428.5 1581.4 L432.8 1585.9 L437.2 1588.3 L441.6 1589.4 L446.0 1589.0 L450.4 1587.4 L454.8 1585.9 L459.2 1584.5 L463.6 1584.0 L468.0 1583.6 L472.4 1583.0 L476.7 1582.2 L481.1 1581.3 L485.5 1580.5 L489.9 1580.1 L494.3 1579.6 L498.7 1579.3 L503.1 1579.1 L507.5 1579.6 L511.9 1580.1 L516.2 1580.7 L520.6 1582.5 L525.0 1584.2 L529.4 1585.4 L533.8 1584.5 L538.2 1583.6 L542.6 1582.8 L547.0 1582.1 L551.4 1581.5 L555.8 1581.6 L560.1 1582.8 L564.5 1582.3 L568.9 1581.7 L573.3 1581.2 L577.7 1580.6 L582.1 1579.9 L586.5 1579.0 L590.9 1578.2 L595.3 1577.7 L599.7 1577.4 L604.0 1577.0 L608.4 1576.7 L612.8 1576.4 L617.2 1576.0 L621.6 1575.7 L626.0 1575.4 L630.4 1575.0 L634.8 1574.7 L639.2 1574.4 L643.5 1574.0 L647.9 1573.6 L652.3 1573.1 L656.7 1572.7 L661.1 1572.4 L665.5 1572.0 L669.9 1571.7 L674.3 1571.4 L678.7 1571.0 L683.1 1570.6 L687.4 1570.1 L691.8 1569.5 L696.2 1569.0 L700.6 1568.4 L705.0 1567.9 L709.4 1567.2 L713.8 1566.2 L718.2 1565.4 L722.6 1564.5 L726.9 1563.8 L731.3 1563.6 L735.7 1563.3 L740.1 1563.1 L744.5 1562.9 L748.9 1562.7 L753.3 1562.5 L757.7 1562.3 L762.1 1562.1 L766.5 1562.3 L770.8 1562.7 L775.2 1563.2 L779.6 1565.5 L784.0 1569.0 L788.4 1572.0 L792.8 1573.3 L797.2 1570.9 L801.6 1568.5 L806.0 1566.8 L810.4 1565.4 L814.7 1564.0 L819.1 1562.8 L823.5 1561.7 L827.9 1560.6 L832.3 1559.2 L836.7 1557.8 L841.1 1556.4 L845.5 1555.0 L849.9 1553.6 L854.2 1552.2 L858.6 1551.8 L863.0 1551.3 L867.4 1555.0 L871.8 1552.7 L876.2 1550.4 L880.6 1548.0 L885.0 1545.6 L889.4 1543.2 L893.8 1540.7 L898.1 1538.3 L902.5 1540.2 L906.9 1543.4 L911.3 1547.3 L915.7 1544.2 L920.1 1541.1 L924.5 1538.1 L928.9 1535.0 L933.3 1531.9 L937.7 1528.9 L942.0 1525.8 L946.4 1523.6 L950.8 1521.4 L955.2 1519.1 L959.6 1516.9 L964.0 1514.7 L968.4 1512.4 L972.8 1510.0 L977.2 1507.7 L981.5 1505.4 L985.9 1503.1 L990.3 1500.4 L994.7 1497.8 L999.1 1495.1 L1003.5 1492.5 L1007.9 1489.8 L1012.3 1487.4 L1016.7 1484.9 L1021.1 1482.4 L1025.4 1479.9 L1029.8 1473.5 L1034.2 1470.9 L1038.6 1468.0 L1043.0 1465.0 L1047.4 1461.8 L1051.8 1458.5 L1056.2 1455.3 L1060.6 1452.1 L1064.9 1449.0 L1069.3 1446.2 L1073.7 1443.5 L1078.1 1440.9 L1082.5 1438.5 L1086.9 1436.1 L1091.3 1433.7 L1095.7 1431.2 L1100.1 1428.8 L1104.5 1426.3 L1108.8 1423.8 L1113.2 1421.3 L1117.6 1418.8 L1122.0 1416.3 L1126.4 1413.7 L1130.8 1411.2 L1135.2 1408.6 L1139.6 1406.1 L1144.0 1403.5 L1148.4 1401.0 L1152.7 1398.4 L1157.1 1395.9 L1161.5 1393.4 L1165.9 1390.8 L1170.3 1388.3 L1174.7 1385.9 L1179.1 1383.4 L1183.5 1380.9 L1187.9 1378.5 L1192.2 1376.1 L1196.6 1373.7 L1201.0 1371.3 L1205.4 1368.9 L1209.8 1366.6 L1214.2 1364.2 L1218.6 1361.9 L1223.0 1359.6 L1227.4 1357.4 L1231.8 1355.1 L1236.1 1352.9 L1240.5 1350.7 L1244.9 1348.5 L1249.3 1346.3 L1253.7 1344.1 L1258.1 1342.0 L1262.5 1339.9 L1266.9 1337.8 L1271.3 1335.8 L1275.6 1333.7 L1280.0 1331.7 L1284.4 1329.8 L1288.8 1327.8 L1293.2 1325.9 L1297.6 1324.0 L1302.0 1322.1 L1306.4 1320.3 L1310.8 1318.4 L1315.2 1316.6 L1319.5 1314.9 L1323.9 1313.1 L1328.3 1311.4 L1332.7 1309.8 L1337.1 1308.1 L1341.5 1306.5 L1345.9 1304.9 L1350.3 1303.4 L1354.7 1301.9 L1359.1 1300.4 L1363.4 1298.9 L1367.8 1297.5 L1372.2 1296.1 L1376.6 1294.8 L1382.2 1293.5 L1382.2 1415.0 L1376.6 1415.3 L1372.2 1415.6 L1367.8 1415.9 L1363.4 1416.1 L1359.1 1416.3 L1354.7 1416.5 L1350.3 1416.7 L1345.9 1416.9 L1341.5 1417.0 L1337.1 1417.2 L1332.7 1417.3 L1328.3 1417.5 L1323.9 1417.6 L1319.5 1417.8 L1315.2 1418.0 L1310.8 1418.1 L1306.4 1418.3 L1302.0 1418.6 L1297.6 1418.8 L1293.2 1419.1 L1288.8 1419.4 L1284.4 1419.8 L1280.0 1420.2 L1275.6 1420.6 L1271.3 1421.1 L1266.9 1421.6 L1262.5 1422.2 L1258.1 1422.9 L1253.7 1423.6 L1249.3 1424.3 L1244.9 1425.2 L1240.5 1426.1 L1236.1 1427.1 L1231.8 1428.1 L1227.4 1429.2 L1223.0 1430.4 L1218.6 1431.6 L1214.2 1432.9 L1209.8 1434.2 L1205.4 1435.5 L1201.0 1436.9 L1196.6 1438.4 L1192.2 1439.8 L1187.9 1441.4 L1183.5 1442.9 L1179.1 1444.5 L1174.7 1446.1 L1170.3 1447.7 L1165.9 1449.3 L1161.5 1450.9 L1157.1 1452.6 L1152.7 1454.3 L1148.4 1455.9 L1144.0 1457.6 L1139.6 1459.3 L1135.2 1460.9 L1130.8 1462.6 L1126.4 1464.2 L1122.0 1465.9 L1117.6 1467.5 L1113.2 1469.1 L1108.8 1470.7 L1104.5 1472.2 L1100.1 1473.7 L1095.7 1475.2 L1091.3 1476.6 L1086.9 1478.0 L1082.5 1479.3 L1078.1 1480.6 L1073.7 1481.8 L1069.3 1482.9 L1064.9 1484.0 L1060.6 1484.9 L1056.2 1485.9 L1051.8 1486.8 L1047.4 1487.7 L1043.0 1488.7 L1038.6 1489.9 L1034.2 1491.2 L1029.8 1492.7 L1025.4 1489.2 L1021.1 1491.7 L1016.7 1494.1 L1012.3 1496.6 L1007.9 1499.1 L1003.5 1501.8 L999.1 1504.4 L994.7 1507.1 L990.3 1509.7 L985.9 1512.4 L981.5 1514.9 L977.2 1517.4 L972.8 1519.9 L968.4 1522.4 L964.0 1524.9 L959.6 1527.5 L955.2 1530.1 L950.8 1532.7 L946.4 1535.3 L942.0 1537.9 L937.7 1541.1 L933.3 1544.4 L928.9 1547.7 L924.5 1551.0 L920.1 1554.3 L915.7 1557.2 L911.3 1559.8 L906.9 1559.2 L902.5 1559.6 L898.1 1561.4 L893.8 1563.1 L889.4 1564.7 L885.0 1566.3 L880.6 1567.8 L876.2 1569.6 L871.8 1571.2 L867.4 1570.9 L863.0 1571.9 L858.6 1573.5 L854.2 1575.1 L849.9 1577.6 L845.5 1579.7 L841.1 1581.0 L836.7 1582.4 L832.3 1583.7 L827.9 1585.0 L823.5 1586.1 L819.1 1587.1 L814.7 1588.3 L810.4 1590.5 L806.0 1592.8 L801.6 1595.0 L797.2 1597.7 L792.8 1598.2 L788.4 1595.8 L784.0 1591.5 L779.6 1587.3 L775.2 1584.7 L770.8 1584.8 L766.5 1584.8 L762.1 1584.9 L757.7 1585.0 L753.3 1585.3 L748.9 1585.6 L744.5 1585.9 L740.1 1586.2 L735.7 1586.6 L731.3 1587.2 L726.9 1588.8 L722.6 1589.8 L718.2 1590.4 L713.8 1591.0 L709.4 1591.6 L705.0 1592.0 L700.6 1592.3 L696.2 1592.5 L691.8 1592.7 L687.4 1592.9 L683.1 1593.2 L678.7 1593.4 L674.3 1593.6 L669.9 1593.8 L665.5 1594.1 L661.1 1594.3 L656.7 1594.5 L652.3 1595.2 L647.9 1595.9 L643.5 1596.7 L639.2 1597.4 L634.8 1598.1 L630.4 1598.9 L626.0 1599.6 L621.6 1600.3 L617.2 1601.0 L612.8 1601.2 L608.4 1601.4 L604.0 1601.6 L599.7 1601.8 L595.3 1602.0 L590.9 1602.5 L586.5 1603.7 L582.1 1604.8 L577.7 1606.0 L573.3 1608.1 L568.9 1610.1 L564.5 1610.5 L560.1 1609.2 L555.8 1607.9 L551.4 1607.4 L547.0 1607.3 L542.6 1607.2 L538.2 1608.1 L533.8 1609.2 L529.4 1610.4 L525.0 1609.9 L520.6 1608.9 L516.2 1607.9 L511.9 1607.9 L507.5 1607.9 L503.1 1607.9 L498.7 1609.2 L494.3 1610.5 L489.9 1611.7 L485.5 1612.2 L481.1 1612.6 L476.7 1613.1 L472.4 1613.6 L468.0 1614.1 L463.6 1614.8 L459.2 1615.8 L454.8 1616.7 L450.4 1617.9 L446.0 1619.6 L441.6 1619.3 L437.2 1619.0 L432.8 1615.4 L428.5 1611.7 L424.1 1610.0 L419.7 1609.3 L415.3 1609.2 L410.9 1609.1 L406.5 1609.0 L402.1 1608.9 L397.7 1608.8 L393.3 1609.0 L389.0 1609.6 L384.6 1610.3 L380.2 1611.1 L375.8 1611.9 L371.4 1612.8 L367.0 1613.7 L362.6 1614.5 L358.2 1615.4 L353.8 1615.8 L349.4 1615.8 L345.1 1615.8 L340.7 1615.3 L336.3 1614.7 L331.9 1614.0 L327.5 1614.0 L323.1 1614.2 L318.7 1614.3 L314.3 1613.8 L309.9 1613.2 L305.5 1612.6 L301.2 1612.7 L296.8 1612.9 L292.4 1613.2Z" fill="#3498DB" fill-opacity="0.25"/>
<path d="M292.4 1581.9 L296.8 1581.5 L301.2 1581.0 L305.5 1580.7 L309.9 1581.8 L314.3 1582.8 L318.7 1583.7 L323.1 1582.6 L327.5 1581.5 L331.9 1580.9 L336.3 1582.2 L340.7 1583.6 L345.1 1584.6 L349.4 1584.8 L353.8 1584.9 L358.2 1584.7 L362.6 1583.9 L367.0 1583.1 L371.4 1582.2 L375.8 1581.3 L380.2 1580.5 L384.6 1579.9 L389.0 1579.7 L393.3 1579.4 L397.7 1579.3 L402.1 1579.3 L406.5 1579.3 L410.9 1579.3 L415.3 1579.3 L419.7 1579.3 L424.1 1579.7 L428.5 1581.4 L432.8 1585.9 L437.2 1588.3 L441.6 1589.4 L446.0 1589.0 L450.4 1587.4 L454.8 1585.9 L459.2 1584.5 L463.6 1584.0 L468.0 1583.6 L472.4 1583.0 L476.7 1582.2 L481.1 1581.3 L485.5 1580.5 L489.9 1580.1 L494.3 1579.6 L498.7 1579.3 L503.1 1579.1 L507.5 1579.6 L511.9 1580.1 L516.2 1580.7 L520.6 1582.5 L525.0 1584.2 L529.4 1585.4 L533.8 1584.5 L538.2 1583.6 L542.6 1582.8 L547.0 1582.1 L551.4 1581.5 L555.8 1581.6 L560.1 1582.8 L564.5 1582.3 L568.9 1581.7 L573.3 1581.2 L577.7 1580.6 L582.1 1579.9 L586.5 1579.0 L590.9 1578.2 L595.3 1577.7 L599.7 1577.4 L604.0 1577.0 L608.4 1576.7 L612.8 1576.4 L617.2 1576.0 L621.6 1575.7 L626.0 1575.4 L630.4 1575.0 L634.8 1574.7 L639.2 1574.4 L643.5 1574.0 L647.9 1573.6 L652.3 1573.1 L656.7 1572.7 L661.1 1572.4 L665.5 1572.0 L669.9 1571.7 L674.3 1571.4 L678.7 1571.0 L683.1 1570.6 L687.4 1570.1 L691.8 1569.5 L696.2 1569.0 L700.6 1568.4 L705.0 1567.9 L709.4 1567.2 L713.8 1566.2 L718.2 1565.4 L722.6 1564.5 L726.9 1563.8 L731.3 1563.6 L735.7 1563.3 L740.1 1563.1 L744.5 1562.9 L748.9 1562.7 L753.3 1562.5 L757.7 1562.3 L762.1 1562.1 L766.5 1562.3 L770.8 1562.7 L775.2 1563.2 L779.6 1565.5 L784.0 1569.0 L788.4 1572.0 L792.8 1573.3 L797.2 1570.9 L801.6 1568.5 L806.0 1566.8 L810.4 1565.4 L814.7 1564.0 L819.1 1562.8 L823.5 1561.7 L827.9 1560.6 L832.3 1559.2 L836.7 1557.8 L841.1 1556.4 L845.5 1555.0 L849.9 1553.6 L854.2 1552.2 L858.6 1551.8 L863.0 1551.3 L867.4 1555.0 L871.8 1552.7 L876.2 1550.4 L880.6 1548.0 L885.0 1545.6 L889.4 1543.2 L893.8 1540.7 L898.1 1538.3 L902.5 1540.2 L906.9 1543.4 L911.3 1547.3 L915.7 1544.2 L920.1 1541.1 L924.5 1538.1 L928.9 1535.0 L933.3 1531.9 L937.7 1528.9 L942.0 1525.8 L946.4 1523.6 L950.8 1521.4 L955.2 1519.1 L959.6 1516.9 L964.0 1514.7 L968.4 1512.4 L972.8 1510.0 L977.2 1507.7 L981.5 1505.4 L985.9 1503.1 L990.3 1500.4 L994.7 1497.8 L999.1 1495.1 L1003.5 1492.5 L1007.9 1489.8 L1012.3 1487.4 L1016.7 1484.9 L1021.1 1482.4 L1025.4 1479.9 L1029.8 1475.3 L1034.2 1471.8 L1038.6 1468.3 L1043.0 1464.0 L1047.4 1458.4 L1051.8 1451.1 L1056.2 1443.5 L1060.6 1437.5 L1064.9 1433.0 L1069.3 1429.3 L1073.7 1425.8 L1078.1 1422.2 L1082.5 1418.7 L1086.9 1415.2 L1091.3 1411.7 L1095.7 1408.2 L1100.1 1404.8 L1104.5 1401.4 L1108.8 1398.0 L1113.2 1394.7 L1117.6 1391.4 L1122.0 1388.1 L1126.4 1384.9 L1130.8 1381.8 L1135.2 1378.7 L1139.6 1375.7 L1144.0 1372.7 L1148.4 1369.8 L1152.7 1366.9 L1157.1 1364.1 L1161.5 1361.4 L1165.9 1358.7 L1170.3 1356.0 L1174.7 1353.4 L1179.1 1350.9 L1183.5 1348.4 L1187.9 1345.9 L1192.2 1343.5 L1196.6 1341.1 L1201.0 1338.8 L1205.4 1336.4 L1209.8 1334.2 L1214.2 1332.0 L1218.6 1329.8 L1223.0 1327.6 L1227.4 1325.5 L1231.8 1323.4 L1236.1 1321.3 L1240.5 1319.2 L1244.9 1317.2 L1249.3 1315.2 L1253.7 1313.2 L1258.1 1311.2 L1262.5 1309.3 L1266.9 1307.4 L1271.3 1305.5 L1275.6 1303.6 L1280.0 1301.7 L1284.4 1299.8 L1288.8 1297.9 L1293.2 1296.1 L1297.6 1294.2 L1302.0 1292.4 L1306.4 1290.5 L1310.8 1288.7 L1315.2 1286.8 L1319.5 1285.0 L1323.9 1283.1 L1328.3 1281.3 L1332.7 1279.4 L1337.1 1277.5 L1341.5 1275.6 L1345.9 1273.8 L1350.3 1271.8 L1354.7 1269.9 L1359.1 1268.0 L1363.4 1266.1 L1367.8 1264.1 L1372.2 1262.1 L1376.6 1260.1 L1382.2 1258.1 L1382.2 1401.6 L1376.6 1400.6 L1372.2 1399.7 L1367.8 1398.9 L1363.4 1398.2 L1359.1 1397.6 L1354.7 1397.0 L1350.3 1396.6 L1345.9 1396.2 L1341.5 1396.0 L1337.1 1395.8 L1332.7 1395.7 L1328.3 1395.7 L1323.9 1395.8 L1319.5 1395.9 L1315.2 1396.1 L1310.8 1396.4 L1306.4 1396.8 L1302.0 1397.2 L1297.6 1397.7 L1293.2 1398.3 L1288.8 1399.0 L1284.4 1399.7 L1280.0 1400.4 L1275.6 1401.3 L1271.3 1402.1 L1266.9 1403.1 L1262.5 1404.1 L1258.1 1405.1 L1253.7 1406.2 L1249.3 1407.4 L1244.9 1408.5 L1240.5 1409.8 L1236.1 1411.1 L1231.8 1412.4 L1227.4 1413.8 L1223.0 1415.2 L1218.6 1416.6 L1214.2 1418.1 L1209.8 1419.6 L1205.4 1421.1 L1201.0 1422.7 L1196.6 1424.3 L1192.2 1425.9 L1187.9 1427.6 L1183.5 1429.2 L1179.1 1430.9 L1174.7 1432.6 L1170.3 1434.3 L1165.9 1436.1 L1161.5 1437.8 L1157.1 1439.6 L1152.7 1441.4 L1148.4 1443.2 L1144.0 1445.0 L1139.6 1446.7 L1135.2 1448.5 L1130.8 1450.3 L1126.4 1452.1 L1122.0 1453.9 L1117.6 1455.7 L1113.2 1457.4 L1108.8 1459.2 L1104.5 1460.9 L1100.1 1462.6 L1095.7 1464.3 L1091.3 1466.0 L1086.9 1467.7 L1082.5 1469.3 L1078.1 1470.9 L1073.7 1472.5 L1069.3 1474.1 L1064.9 1475.6 L1060.6 1477.0 L1056.2 1478.5 L1051.8 1479.9 L1047.4 1481.5 L1043.0 1483.4 L1038.6 1485.8 L1034.2 1488.9 L1029.8 1492.9 L1025.4 1489.2 L1021.1 1491.7 L1016.7 1494.1 L1012.3 1496.6 L1007.9 1499.1 L1003.5 1501.8 L999.1 1504.4 L994.7 1507.1 L990.3 1509.7 L985.9 1512.4 L981.5 1514.9 L977.2 1517.4 L972.8 1519.9 L968.4 1522.4 L964.0 1524.9 L959.6 1527.5 L955.2 1530.1 L950.8 1532.7 L946.4 1535.3 L942.0 1537.9 L937.7 1541.1 L933.3 1544.4 L928.9 1547.7 L924.5 1551.0 L920.1 1554.3 L915.7 1557.2 L911.3 1559.8 L906.9 1559.2 L902.5 1559.6 L898.1 1561.4 L893.8 1563.1 L889.4 1564.7 L885.0 1566.3 L880.6 1567.8 L876.2 1569.6 L871.8 1571.2 L867.4 1570.9 L863.0 1571.9 L858.6 1573.5 L854.2 1575.1 L849.9 1577.6 L845.5 1579.7 L841.1 1581.0 L836.7 1582.4 L832.3 1583.7 L827.9 1585.0 L823.5 1586.1 L819.1 1587.1 L814.7 1588.3 L810.4 1590.5 L806.0 1592.8 L801.6 1595.0 L797.2 1597.7 L792.8 1598.2 L788.4 1595.8 L784.0 1591.5 L779.6 1587.3 L775.2 1584.7 L770.8 1584.8 L766.5 1584.8 L762.1 1584.9 L757.7 1585.0 L753.3 1585.3 L748.9 1585.6 L744.5 1585.9 L740.1 1586.2 L735.7 1586.6 L731.3 1587.2 L726.9 1588.8 L722.6 1589.8 L718.2 1590.4 L713.8 1591.0 L709.4 1591.6 L705.0 1592.0 L700.6 1592.3 L696.2 1592.5 L691.8 1592.7 L687.4 1592.9 L683.1 1593.2 L678.7 1593.4 L674.3 1593.6 L669.9 1593.8 L665.5 1594.1 L661.1 1594.3 L656.7 1594.5 L652.3 1595.2 L647.9 1595.9 L643.5 1596.7 L639.2 1597.4 L634.8 1598.1 L630.4 1598.9 L626.0 1599.6 L621.6 1600.3 L617.2 1601.0 L612.8 1601.2 L608.4 1601.4 L604.0 1601.6 L599.7 1601.8 L595.3 1602.0 L590.9 1602.5 L586.5 1603.7 L582.1 1604.8 L577.7 1606.0 L573.3 1608.1 L568.9 1610.1 L564.5 1610.5 L560.1 1609.2 L555.8 1607.9 L551.4 1607.4 L547.0 1607.3 L542.6 1607.2 L538.2 1608.1 L533.8 1609.2 L529.4 1610.4 L525.0 1609.9 L520.6 1608.9 L516.2 1607.9 L511.9 1607.9 L507.5 1607.9 L503.1 1607.9 L498.7 1609.2 L494.3 1610.5 L489.9 1611.7 L485.5 1612.2 L481.1 1612.6 L476.7 1613.1 L472.4 1613.6 L468.0 1614.1 L463.6 1614.8 L459.2 1615.8 L454.8 1616.7 L450.4 1617.9 L446.0 1619.6 L441.6 1619.3 L437.2 1619.0 L432.8 1615.4 L428.5 1611.7 L424.1 1610.0 L419.7 1609.3 L415.3 1609.2 L410.9 1609.1 L406.5 1609.0 L402.1 1608.9 L397.7 1608.8 L393.3 1609.0 L389.0 1609.6 L384.6 1610.3 L380.2 1611.1 L375.8 1611.9 L371.4 1612.8 L367.0 1613.7 L362.6 1614.5 L358.2 1615.4 L353.8 1615.8 L349.4 1615.8 L345.1 1615.8 L340.7 1615.3 L336.3 1614.7 L331.9 1614.0 L327.5 1614.0 L323.1 1614.2 L318.7 1614.3 L314.3 1613.8 L309.9 1613.2 L305.5 1612.6 L301.2 1612.7 L296.8 1612.9 L292.4 1613.2Z" fill="#E74C3C" fill-opacity="0.25"/>
<path d="M283.6 1597.2 L288.0 1596.9 L292.4 1596.7 L296.8 1596.9 L301.2 1597.4 L305.5 1597.9 L309.9 1598.4 L314.3 1598.6 L318.7 1598.5 L323.1 1598.3 L327.5 1598.1 L331.9 1598.3 L336.3 1598.6 L340.7 1599.1 L345.1 1599.6 L349.4 1599.9 L353.8 1600.1 L358.2 1599.8 L362.6 1599.1 L367.0 1598.1 L371.4 1597.2 L375.8 1596.1 L380.2 1595.1 L384.6 1594.9 L389.0 1595.1 L393.3 1595.3 L397.7 1595.5 L402.1 1595.7 L406.5 1595.8 L410.9 1595.8 L415.3 1595.8 L419.7 1595.8 L424.1 1595.8 L428.5 1598.6 L432.8 1601.4 L437.2 1603.0 L441.6 1602.9 L446.0 1602.8 L450.4 1602.1 L454.8 1600.7 L459.2 1599.5 L463.6 1598.7 L468.0 1598.0 L472.4 1597.2 L476.7 1596.4 L481.1 1595.4 L485.5 1594.5 L489.9 1593.7 L494.3 1593.0 L498.7 1592.4 L503.1 1592.1 L507.5 1592.2 L511.9 1592.6 L516.2 1593.0 L520.6 1594.3 L525.0 1596.1 L529.4 1596.7 L533.8 1596.4 L538.2 1595.8 L542.6 1595.0 L547.0 1594.5 L551.4 1594.9 L555.8 1595.5 L560.1 1595.8 L564.5 1595.6 L568.9 1595.0 L573.3 1594.0 L577.7 1593.0 L582.1 1592.2 L586.5 1591.5 L590.9 1590.8 L595.3 1590.2 L599.7 1589.7 L604.0 1589.2 L608.4 1588.8 L612.8 1588.4 L617.2 1588.0 L621.6 1587.7 L626.0 1587.3 L630.4 1586.9 L634.8 1586.5 L639.2 1586.1 L643.5 1585.6 L647.9 1585.1 L652.3 1584.6 L656.7 1584.1 L661.1 1583.6 L665.5 1583.2 L669.9 1582.7 L674.3 1582.4 L678.7 1582.1 L683.1 1582.0 L687.4 1581.9 L691.8 1581.8 L696.2 1581.7 L700.6 1581.7 L705.0 1581.5 L709.4 1581.0 L713.8 1579.1 L718.2 1577.2 L722.6 1576.4 L726.9 1575.9 L731.3 1575.5 L735.7 1575.1 L740.1 1574.8 L744.5 1574.5 L748.9 1574.1 L753.3 1573.7 L757.7 1573.3 L762.1 1573.1 L766.5 1573.1 L770.8 1573.4 L775.2 1573.8 L779.6 1575.4 L784.0 1580.1 L788.4 1583.6 L792.8 1585.2 L797.2 1584.7 L801.6 1581.6 L806.0 1579.3 L810.4 1577.6 L814.7 1575.9 L819.1 1574.1 L823.5 1572.4 L827.9 1570.8 L832.3 1569.2 L836.7 1567.5 L841.1 1565.9 L845.5 1564.5 L849.9 1563.3 L854.2 1562.5 L858.6 1561.8 L863.0 1561.5 L867.4 1565.2 L871.8 1563.4 L876.2 1559.7 L880.6 1556.7 L885.0 1553.7 L889.4 1550.7 L893.8 1548.5 L898.1 1547.6 L902.5 1551.8 L906.9 1555.9 L911.3 1554.6 L915.7 1551.9 L920.1 1549.1 L924.5 1545.9 L928.9 1542.3 L933.3 1538.6 L937.7 1535.0 L942.0 1531.8 L946.4 1529.0 L950.8 1526.4 L955.2 1523.9 L959.6 1521.5 L964.0 1519.3 L968.4 1517.2 L972.8 1515.1 L977.2 1513.0 L981.5 1510.9 L985.9 1508.7 L990.3 1506.3 L994.7 1503.9 L999.1 1501.4 L1003.5 1499.0 L1007.9 1496.6 L1012.3 1494.3 L1016.7 1492.2 L1021.1 1489.9 L1025.4 1487.3 L1029.8 1484.1 L1034.2 1480.8 L1038.6 1478.0 L1043.0 1475.5 L1047.4 1473.2 L1051.8 1471.2 L1056.2 1469.4 L1060.6 1467.7 L1064.9 1466.0 L1069.3 1464.4 L1073.7 1462.9 L1078.1 1461.4 L1082.5 1459.8 L1086.9 1458.3 L1091.3 1456.6 L1095.7 1455.0 L1100.1 1453.2 L1104.5 1451.4 L1108.8 1449.6 L1113.2 1447.7 L1117.6 1445.8 L1122.0 1443.9 L1126.4 1441.9 L1130.8 1439.9 L1135.2 1437.9 L1139.6 1435.9 L1144.0 1433.8 L1148.4 1431.8 L1152.7 1429.8 L1157.1 1427.7 L1161.5 1425.7 L1165.9 1423.7 L1170.3 1421.7 L1174.7 1419.8 L1179.1 1417.9 L1183.5 1416.0 L1187.9 1414.2 L1192.2 1412.4 L1196.6 1410.6 L1201.0 1408.9 L1205.4 1407.3 L1209.8 1405.6 L1214.2 1404.1 L1218.6 1402.5 L1223.0 1401.0 L1227.4 1399.5 L1231.8 1398.1 L1236.1 1396.7 L1240.5 1395.3 L1244.9 1394.0 L1249.3 1392.6 L1253.7 1391.3 L1258.1 1390.1 L1262.5 1388.8 L1266.9 1387.6 L1271.3 1386.4 L1275.6 1385.2 L1280.0 1384.0 L1284.4 1382.8 L1288.8 1381.7 L1293.2 1380.5 L1297.6 1379.4 L1302.0 1378.3 L1306.4 1377.2 L1310.8 1376.1 L1315.2 1375.0 L1319.5 1373.9 L1323.9 1372.8 L1328.3 1371.7 L1332.7 1370.6 L1337.1 1369.5 L1341.5 1368.3 L1345.9 1367.2 L1350.3 1366.1 L1354.7 1365.0 L1359.1 1363.8 L1363.4 1362.6 L1367.8 1361.5 L1372.2 1360.3 L1376.6 1359.1 L1381.0 1357.8 L1389.8 1355.4" fill="none" stroke="#3498DB" stroke-width="11" stroke-linejoin="round" clip-path="url(#cp2)"/>
<path d="M283.6 1597.2 L288.0 1596.9 L292.4 1596.7 L296.8 1596.9 L301.2 1597.4 L305.5 1597.9 L309.9 1598.4 L314.3 1598.6 L318.7 1598.5 L323.1 1598.3 L327.5 1598.1 L331.9 1598.3 L336.3 1598.6 L340.7 1599.1 L345.1 1599.6 L349.4 1599.9 L353.8 1600.1 L358.2 1599.8 L362.6 1599.1 L367.0 1598.1 L371.4 1597.2 L375.8 1596.1 L380.2 1595.1 L384.6 1594.9 L389.0 1595.1 L393.3 1595.3 L397.7 1595.5 L402.1 1595.7 L406.5 1595.8 L410.9 1595.8 L415.3 1595.8 L419.7 1595.8 L424.1 1595.8 L428.5 1598.6 L432.8 1601.4 L437.2 1603.0 L441.6 1602.9 L446.0 1602.8 L450.4 1602.1 L454.8 1600.7 L459.2 1599.5 L463.6 1598.7 L468.0 1598.0 L472.4 1597.2 L476.7 1596.4 L481.1 1595.4 L485.5 1594.5 L489.9 1593.7 L494.3 1593.0 L498.7 1592.4 L503.1 1592.1 L507.5 1592.2 L511.9 1592.6 L516.2 1593.0 L520.6 1594.3 L525.0 1596.1 L529.4 1596.7 L533.8 1596.4 L538.2 1595.8 L542.6 1595.0 L547.0 1594.5 L551.4 1594.9 L555.8 1595.5 L560.1 1595.8 L564.5 1595.6 L568.9 1595.0 L573.3 1594.0 L577.7 1593.0 L582.1 1592.2 L586.5 1591.5 L590.9 1590.8 L595.3 1590.2 L599.7 1589.7 L604.0 1589.2 L608.4 1588.8 L612.8 1588.4 L617.2 1588.0 L621.6 1587.7 L626.0 1587.3 L630.4 1586.9 L634.8 1586.5 L639.2 1586.1 L643.5 1585.6 L647.9 1585.1 L652.3 1584.6 L656.7 1584.1 L661.1 1583.6 L665.5 1583.2 L669.9 1582.7 L674.3 1582.4 L678.7 1582.1 L683.1 1582.0 L687.4 1581.9 L691.8 1581.8 L696.2 1581.7 L700.6 1581.7 L705.0 1581.5 L709.4 1581.0 L713.8 1579.1 L718.2 1577.2 L722.6 1576.4 L726.9 1575.9 L731.3 1575.5 L735.7 1575.1 L740.1 1574.8 L744.5 1574.5 L748.9 1574.1 L753.3 1573.7 L757.7 1573.3 L762.1 1573.1 L766.5 1573.1 L770.8 1573.4 L775.2 1573.8 L779.6 1575.4 L784.0 1580.1 L788.4 1583.6 L792.8 1585.2 L797.2 1584.7 L801.6 1581.6 L806.0 1579.3 L810.4 1577.6 L814.7 1575.9 L819.1 1574.1 L823.5 1572.4 L827.9 1570.8 L832.3 1569.2 L836.7 1567.5 L841.1 1565.9 L845.5 1564.5 L849.9 1563.3 L854.2 1562.5 L858.6 1561.8 L863.0 1561.5 L867.4 1565.2 L871.8 1563.4 L876.2 1559.7 L880.6 1556.7 L885.0 1553.7 L889.4 1550.7 L893.8 1548.5 L898.1 1547.6 L902.5 1551.8 L906.9 1555.9 L911.3 1554.6 L915.7 1551.9 L920.1 1549.1 L924.5 1545.9 L928.9 1542.3 L933.3 1538.6 L937.7 1535.0 L942.0 1531.8 L946.4 1529.0 L950.8 1526.4 L955.2 1523.9 L959.6 1521.5 L964.0 1519.3 L968.4 1517.2 L972.8 1515.1 L977.2 1513.0 L981.5 1510.9 L985.9 1508.7 L990.3 1506.3 L994.7 1503.9 L999.1 1501.4 L1003.5 1499.0 L1007.9 1496.6 L1012.3 1494.3 L1016.7 1492.2 L1021.1 1489.9 L1025.4 1487.3 L1029.8 1484.1 L1034.2 1480.2 L1038.6 1476.5 L1043.0 1473.0 L1047.4 1469.7 L1051.8 1466.7 L1056.2 1463.8 L1060.6 1461.1 L1064.9 1458.5 L1069.3 1456.0 L1073.7 1453.6 L1078.1 1451.2 L1082.5 1448.9 L1086.9 1446.6 L1091.3 1444.3 L1095.7 1442.0 L1100.1 1439.7 L1104.5 1437.3 L1108.8 1435.0 L1113.2 1432.6 L1117.6 1430.3 L1122.0 1427.9 L1126.4 1425.5 L1130.8 1423.2 L1135.2 1420.9 L1139.6 1418.6 L1144.0 1416.3 L1148.4 1414.0 L1152.7 1411.8 L1157.1 1409.5 L1161.5 1407.4 L1165.9 1405.3 L1170.3 1403.2 L1174.7 1401.1 L1179.1 1399.1 L1183.5 1397.1 L1187.9 1395.2 L1192.2 1393.3 L1196.6 1391.4 L1201.0 1389.5 L1205.4 1387.7 L1209.8 1385.9 L1214.2 1384.2 L1218.6 1382.5 L1223.0 1380.8 L1227.4 1379.2 L1231.8 1377.5 L1236.1 1375.9 L1240.5 1374.4 L1244.9 1372.8 L1249.3 1371.3 L1253.7 1369.8 L1258.1 1368.4 L1262.5 1366.9 L1266.9 1365.5 L1271.3 1364.1 L1275.6 1362.7 L1280.0 1361.4 L1284.4 1360.1 L1288.8 1358.8 L1293.2 1357.5 L1297.6 1356.2 L1302.0 1355.0 L1306.4 1353.8 L1310.8 1352.6 L1315.2 1351.4 L1319.5 1350.2 L1323.9 1349.0 L1328.3 1347.9 L1332.7 1346.8 L1337.1 1345.6 L1341.5 1344.5 L1345.9 1343.5 L1350.3 1342.4 L1354.7 1341.3 L1359.1 1340.3 L1363.4 1339.2 L1367.8 1338.2 L1372.2 1337.1 L1376.6 1336.1 L1381.0 1335.1 L1389.8 1333.1" fill="none" stroke="#E74C3C" stroke-width="11" stroke-linejoin="round" clip-path="url(#cp2)"/>
<line x1="283.6" x2="1381.0" y1="1459.5" y2="1459.5" stroke="#7a7a7a" stroke-width="4.6" stroke-dasharray="19.1 9.32"/>
<line x1="283.6" x2="1381.0" y1="1413.2" y2="1413.2" stroke="#7a7a7a" stroke-width="4.6" stroke-dasharray="19.1 9.32"/>
<path d="M283.6 1593.5 L288.0 1591.6 L292.4 1591.2 L296.8 1592.1 L301.2 1593.0 L305.5 1595.6 L309.9 1603.2 L314.3 1610.4 L318.7 1601.4 L323.1 1592.4 L327.5 1598.6 L331.9 1606.0 L336.3 1611.3 L340.7 1600.3 L345.1 1601.6 L349.4 1594.4 L353.8 1592.6 L358.2 1592.1 L362.6 1591.2 L367.0 1592.1 L371.4 1595.8 L375.8 1599.5 L380.2 1595.8 L384.6 1597.7 L389.0 1600.0 L393.3 1600.9 L397.7 1601.6 L402.1 1570.6 L406.5 1567.4 L410.9 1587.7 L415.3 1592.8 L419.7 1588.2 L424.1 1592.1 L428.5 1599.5 L432.8 1609.4 L437.2 1609.7 L441.6 1608.3 L446.0 1612.5 L450.4 1602.3 L454.8 1587.8 L459.2 1610.7 L463.6 1602.5 L468.0 1608.4 L472.4 1609.7 L476.7 1609.1 L481.1 1603.0 L485.5 1591.0 L489.9 1590.3 L494.3 1608.7 L498.7 1595.8 L503.1 1587.6 L507.5 1594.9 L511.9 1607.9 L516.2 1618.1 L520.6 1620.1 L525.0 1604.9 L529.4 1595.3 L533.8 1608.5 L538.2 1615.3 L542.6 1618.1 L547.0 1616.6 L551.4 1616.9 L555.8 1611.6 L560.1 1606.2 L564.5 1591.5 L568.9 1585.7 L573.3 1604.7 L577.7 1617.3 L582.1 1606.0 L586.5 1597.7 L590.9 1592.3 L595.3 1591.5 L599.7 1596.9 L604.0 1596.3 L608.4 1596.3 L612.8 1591.2 L617.2 1581.3 L621.6 1586.7 L626.0 1589.1 L630.4 1603.4 L634.8 1587.8 L639.2 1579.9 L643.5 1586.4 L647.9 1598.3 L652.3 1586.4 L656.7 1589.5 L661.1 1584.4 L665.5 1572.5 L669.9 1569.9 L674.3 1570.0 L678.7 1563.2 L683.1 1564.3 L687.4 1567.5 L691.8 1563.5 L696.2 1554.4 L700.6 1563.4 L705.0 1579.3 L709.4 1575.2 L713.8 1578.2 L718.2 1582.7 L722.6 1589.5 L726.9 1575.8 L731.3 1565.5 L735.7 1562.3 L740.1 1577.9 L744.5 1586.0 L748.9 1590.7 L753.3 1571.1 L757.7 1568.0 L762.1 1570.8 L766.5 1575.6 L770.8 1569.7 L775.2 1570.8 L779.6 1569.7 L784.0 1594.5 L788.4 1587.5 L792.8 1581.0 L797.2 1579.6 L801.6 1580.4 L806.0 1569.1 L810.4 1574.5 L814.7 1584.3 L819.1 1573.2 L823.5 1560.8 L827.9 1580.4 L832.3 1581.3 L836.7 1584.3 L841.1 1555.8 L845.5 1566.3 L849.9 1552.1 L854.2 1543.9 L858.6 1543.7 L863.0 1561.3 L867.4 1545.6 L871.8 1558.9 L876.2 1561.5 L880.6 1555.2 L885.0 1544.6 L889.4 1540.0 L893.8 1548.7 L898.1 1532.6 L902.5 1536.3 L906.9 1554.3 L911.3 1551.3 L915.7 1543.4 L920.1 1532.1 L924.5 1541.8 L928.9 1526.8 L933.3 1515.0 L937.7 1531.6 L942.0 1535.4 L946.4 1524.4 L950.8 1516.8 L955.2 1516.5 L959.6 1521.3 L964.0 1511.9 L968.4 1513.3 L972.8 1514.4 L977.2 1522.8 L981.5 1511.4 L985.9 1506.6 L990.3 1514.9 L994.7 1514.0 L999.1 1510.2 L1003.5 1504.2 L1007.9 1492.0 L1012.3 1483.2 L1016.7 1488.7 L1021.1 1495.6 L1025.4 1489.6 L1029.8 1483.5" fill="none" stroke="#000" stroke-width="8.9" stroke-linejoin="round" stroke-linecap="square" clip-path="url(#cp2)"/>
<path d="M283.6 1225.2V1691.3H1383.5" fill="none" stroke="#000" stroke-width="5.0" stroke-linejoin="miter"/>
<line x1="261.7" x2="283.6" y1="1598.6" y2="1598.6" stroke="#000" stroke-width="5.0"/>
<text class="t" x="242.5" y="1614.4" text-anchor="end">0</text>
<line x1="261.7" x2="283.6" y1="1459.5" y2="1459.5" stroke="#000" stroke-width="5.0"/>
<text class="t" x="242.5" y="1475.3" text-anchor="end">1.5</text>
<line x1="261.7" x2="283.6" y1="1413.2" y2="1413.2" stroke="#000" stroke-width="5.0"/>
<text class="t" x="242.5" y="1429.0" text-anchor="end">2</text>
<line x1="261.7" x2="283.6" y1="1227.7" y2="1227.7" stroke="#000" stroke-width="5.0"/>
<text class="t" x="242.5" y="1243.5" text-anchor="end">4</text>
<line x1="283.6" x2="283.6" y1="1691.3" y2="1712.3" stroke="#000" stroke-width="5.0"/>
<line x1="503.1" x2="503.1" y1="1691.3" y2="1712.3" stroke="#000" stroke-width="5.0"/>
<line x1="722.6" x2="722.6" y1="1691.3" y2="1712.3" stroke="#000" stroke-width="5.0"/>
<line x1="942.0" x2="942.0" y1="1691.3" y2="1712.3" stroke="#000" stroke-width="5.0"/>
<line x1="1161.5" x2="1161.5" y1="1691.3" y2="1712.3" stroke="#000" stroke-width="5.0"/>
<line x1="1381.0" x2="1381.0" y1="1691.3" y2="1712.3" stroke="#000" stroke-width="5.0"/>
<text class="l" x="832.3" y="1200.0" text-anchor="middle">CWP</text>
<text class="t" x="305.4" y="1271.5">(c)</text>
</g>
<text class="t" x="283.6" y="1765.8" text-anchor="middle">1850</text>
<text class="t" x="503.1" y="1765.8" text-anchor="middle">1900</text>
<text class="t" x="722.6" y="1765.8" text-anchor="middle">1950</text>
<text class="t" x="942.0" y="1765.8" text-anchor="middle">2000</text>
<text class="t" x="1161.5" y="1765.8" text-anchor="middle">2050</text>
<text class="t" x="1381.0" y="1765.8" text-anchor="middle">2100</text>
<text class="l" x="832.3" y="1833.4" text-anchor="middle">Year</text>
<text class="l yl" transform="translate(127.3 878.2) rotate(-90)" text-anchor="middle">Temperature change (<tspan class="rg" dx="3.7" dy="-11.3">°</tspan><tspan dx="4.9" dy="11.3">C relative to 1850–1900)</tspan></text>
<line x1="5.5" x2="112.4" y1="1927.4" y2="1927.4" stroke="#3498DB" stroke-width="10"/>
<rect x="10.7" y="1979.1" width="96.2" height="32.7" fill="#3498DB" fill-opacity="0.25"/>
<line x1="7" x2="111" y1="2063.5" y2="2063.5" stroke="#000" stroke-width="8.5"/>
<line x1="874.5" x2="981" y1="1927.4" y2="1927.4" stroke="#E74C3C" stroke-width="10"/>
<rect x="879.5" y="1979.5" width="96.5" height="32" fill="#E74C3C" fill-opacity="0.25"/>
<text class="t" x="145" y="1945.2">Fixed feedback</text>
<text class="t" x="145" y="2012.6">Fixed feedback (5%–95% range)</text>
<text class="t" x="145" y="2081.4">IPCC AR6 best estimate</text>
<text class="t" x="1014.3" y="1945.2">Dynamic feedback</text>
<text class="t" x="1014.3" y="2012.6">Dynamic feedback (5%–95% range)</text>
</svg></body></html>
